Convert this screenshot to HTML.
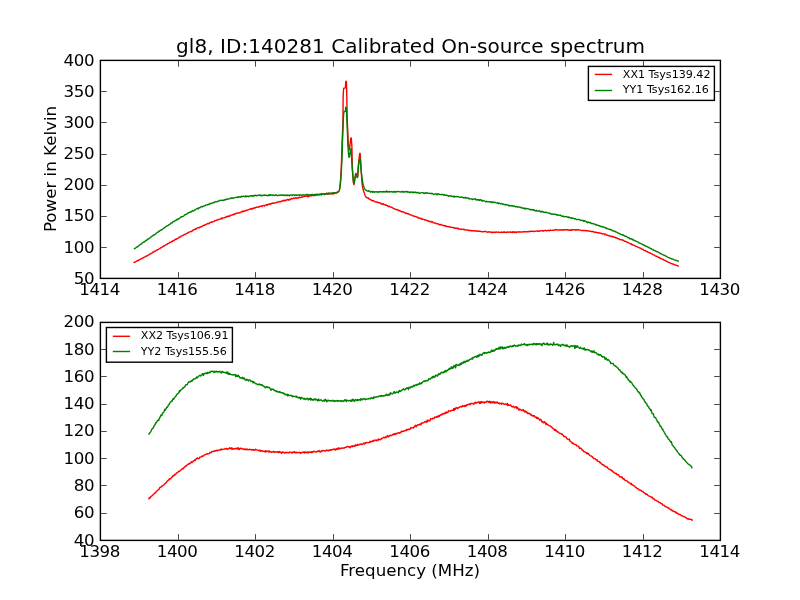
<!DOCTYPE html>
<html><head><meta charset="utf-8"><title>gl8 spectrum</title>
<style>
html,body{margin:0;padding:0;background:#fff;}
body{width:800px;height:600px;overflow:hidden;}
svg{display:block;}
text{font-family:"DejaVu Sans", "Liberation Sans", sans-serif;fill:#000;}
.tk{font-size:16.67px;}
.tn{font-size:16.67px;letter-spacing:-0.4px;}
.lg{font-size:11.1px;}
.ax{fill:none;stroke:#000;stroke-width:1.4;}
.lb{fill:#fff;stroke:#000;stroke-width:1.4;}
.t{stroke:#000;stroke-width:0.72;}
.c{fill:none;stroke-width:1.4;stroke-linejoin:round;stroke-linecap:butt;}
</style></head><body>
<svg width="800" height="600" viewBox="0 0 800 600">
<rect width="800" height="600" fill="#fff"/>

<rect class="ax" x="100.4" y="60.4" width="620.0" height="218.0"/>
<text class="tn" x="99.6" y="294.5" text-anchor="middle">1414</text>
<line class="t" x1="178.5" y1="277.7" x2="178.5" y2="272.1"/><line class="t" x1="178.5" y1="61.1" x2="178.5" y2="66.7"/>
<text class="tn" x="177.1" y="294.5" text-anchor="middle">1416</text>
<line class="t" x1="255.5" y1="277.7" x2="255.5" y2="272.1"/><line class="t" x1="255.5" y1="61.1" x2="255.5" y2="66.7"/>
<text class="tn" x="254.6" y="294.5" text-anchor="middle">1418</text>
<line class="t" x1="333.5" y1="277.7" x2="333.5" y2="272.1"/><line class="t" x1="333.5" y1="61.1" x2="333.5" y2="66.7"/>
<text class="tn" x="332.1" y="294.5" text-anchor="middle">1420</text>
<line class="t" x1="410.5" y1="277.7" x2="410.5" y2="272.1"/><line class="t" x1="410.5" y1="61.1" x2="410.5" y2="66.7"/>
<text class="tn" x="409.6" y="294.5" text-anchor="middle">1422</text>
<line class="t" x1="488.5" y1="277.7" x2="488.5" y2="272.1"/><line class="t" x1="488.5" y1="61.1" x2="488.5" y2="66.7"/>
<text class="tn" x="487.1" y="294.5" text-anchor="middle">1424</text>
<line class="t" x1="565.5" y1="277.7" x2="565.5" y2="272.1"/><line class="t" x1="565.5" y1="61.1" x2="565.5" y2="66.7"/>
<text class="tn" x="564.6" y="294.5" text-anchor="middle">1426</text>
<line class="t" x1="643.5" y1="277.7" x2="643.5" y2="272.1"/><line class="t" x1="643.5" y1="61.1" x2="643.5" y2="66.7"/>
<text class="tn" x="642.1" y="294.5" text-anchor="middle">1428</text>
<text class="tn" x="719.6" y="294.5" text-anchor="middle">1430</text>
<text class="tn" x="94.2" y="284.1" text-anchor="end">50</text>
<line class="t" x1="101.1" y1="247.5" x2="106.7" y2="247.5"/><line class="t" x1="719.7" y1="247.5" x2="714.1" y2="247.5"/>
<text class="tn" x="94.2" y="253.1" text-anchor="end">100</text>
<line class="t" x1="101.1" y1="216.5" x2="106.7" y2="216.5"/><line class="t" x1="719.7" y1="216.5" x2="714.1" y2="216.5"/>
<text class="tn" x="94.2" y="221.1" text-anchor="end">150</text>
<line class="t" x1="101.1" y1="185.5" x2="106.7" y2="185.5"/><line class="t" x1="719.7" y1="185.5" x2="714.1" y2="185.5"/>
<text class="tn" x="94.2" y="190.1" text-anchor="end">200</text>
<line class="t" x1="101.1" y1="154.5" x2="106.7" y2="154.5"/><line class="t" x1="719.7" y1="154.5" x2="714.1" y2="154.5"/>
<text class="tn" x="94.2" y="159.1" text-anchor="end">250</text>
<line class="t" x1="101.1" y1="122.5" x2="106.7" y2="122.5"/><line class="t" x1="719.7" y1="122.5" x2="714.1" y2="122.5"/>
<text class="tn" x="94.2" y="128.1" text-anchor="end">300</text>
<line class="t" x1="101.1" y1="91.5" x2="106.7" y2="91.5"/><line class="t" x1="719.7" y1="91.5" x2="714.1" y2="91.5"/>
<text class="tn" x="94.2" y="97.1" text-anchor="end">350</text>
<text class="tn" x="94.2" y="66.1" text-anchor="end">400</text>
<rect class="ax" x="100.4" y="322.4" width="620.0" height="218.0"/>
<text class="tn" x="99.6" y="556.5" text-anchor="middle">1398</text>
<line class="t" x1="178.5" y1="539.7" x2="178.5" y2="534.1"/><line class="t" x1="178.5" y1="323.1" x2="178.5" y2="328.7"/>
<text class="tn" x="177.1" y="556.5" text-anchor="middle">1400</text>
<line class="t" x1="255.5" y1="539.7" x2="255.5" y2="534.1"/><line class="t" x1="255.5" y1="323.1" x2="255.5" y2="328.7"/>
<text class="tn" x="254.6" y="556.5" text-anchor="middle">1402</text>
<line class="t" x1="333.5" y1="539.7" x2="333.5" y2="534.1"/><line class="t" x1="333.5" y1="323.1" x2="333.5" y2="328.7"/>
<text class="tn" x="332.1" y="556.5" text-anchor="middle">1404</text>
<line class="t" x1="410.5" y1="539.7" x2="410.5" y2="534.1"/><line class="t" x1="410.5" y1="323.1" x2="410.5" y2="328.7"/>
<text class="tn" x="409.6" y="556.5" text-anchor="middle">1406</text>
<line class="t" x1="488.5" y1="539.7" x2="488.5" y2="534.1"/><line class="t" x1="488.5" y1="323.1" x2="488.5" y2="328.7"/>
<text class="tn" x="487.1" y="556.5" text-anchor="middle">1408</text>
<line class="t" x1="565.5" y1="539.7" x2="565.5" y2="534.1"/><line class="t" x1="565.5" y1="323.1" x2="565.5" y2="328.7"/>
<text class="tn" x="564.6" y="556.5" text-anchor="middle">1410</text>
<line class="t" x1="643.5" y1="539.7" x2="643.5" y2="534.1"/><line class="t" x1="643.5" y1="323.1" x2="643.5" y2="328.7"/>
<text class="tn" x="642.1" y="556.5" text-anchor="middle">1412</text>
<text class="tn" x="719.6" y="556.5" text-anchor="middle">1414</text>
<text class="tn" x="94.2" y="546.1" text-anchor="end">40</text>
<line class="t" x1="101.1" y1="513.5" x2="106.7" y2="513.5"/><line class="t" x1="719.7" y1="513.5" x2="714.1" y2="513.5"/>
<text class="tn" x="94.2" y="518.1" text-anchor="end">60</text>
<line class="t" x1="101.1" y1="485.5" x2="106.7" y2="485.5"/><line class="t" x1="719.7" y1="485.5" x2="714.1" y2="485.5"/>
<text class="tn" x="94.2" y="491.1" text-anchor="end">80</text>
<line class="t" x1="101.1" y1="458.5" x2="106.7" y2="458.5"/><line class="t" x1="719.7" y1="458.5" x2="714.1" y2="458.5"/>
<text class="tn" x="94.2" y="464.1" text-anchor="end">100</text>
<line class="t" x1="101.1" y1="431.5" x2="106.7" y2="431.5"/><line class="t" x1="719.7" y1="431.5" x2="714.1" y2="431.5"/>
<text class="tn" x="94.2" y="436.1" text-anchor="end">120</text>
<line class="t" x1="101.1" y1="404.5" x2="106.7" y2="404.5"/><line class="t" x1="719.7" y1="404.5" x2="714.1" y2="404.5"/>
<text class="tn" x="94.2" y="409.1" text-anchor="end">140</text>
<line class="t" x1="101.1" y1="376.5" x2="106.7" y2="376.5"/><line class="t" x1="719.7" y1="376.5" x2="714.1" y2="376.5"/>
<text class="tn" x="94.2" y="382.1" text-anchor="end">160</text>
<line class="t" x1="101.1" y1="349.5" x2="106.7" y2="349.5"/><line class="t" x1="719.7" y1="349.5" x2="714.1" y2="349.5"/>
<text class="tn" x="94.2" y="355.1" text-anchor="end">180</text>
<text class="tn" x="94.2" y="327.1" text-anchor="end">200</text>
<path class="c" stroke="#f00" d="M133.75,262.95 L134.28,262.12 L134.81,262.22 L135.34,261.83 L135.87,261.57 L136.40,261.33 L136.93,260.83 L137.46,260.78 L137.99,260.42 L138.52,260.68 L139.05,260.01 L139.58,259.66 L140.11,259.39 L140.64,259.06 L141.17,258.73 L141.70,258.53 L142.23,258.37 L142.76,257.99 L143.29,257.87 L143.82,257.43 L144.35,257.17 L144.88,257.09 L145.41,256.67 L145.94,256.24 L146.47,255.99 L147.00,255.80 L147.53,255.71 L148.06,255.11 L148.59,254.82 L149.12,254.70 L149.65,254.14 L150.18,253.92 L150.71,253.79 L151.24,253.45 L151.77,253.08 L152.30,252.86 L152.83,252.04 L153.36,252.30 L153.89,251.70 L154.42,251.28 L154.95,251.27 L155.48,251.03 L156.01,250.54 L156.54,250.14 L157.07,250.00 L157.60,249.68 L158.13,249.60 L158.66,249.19 L159.19,248.80 L159.72,248.64 L160.25,248.13 L160.78,247.71 L161.31,247.65 L161.84,247.34 L162.37,246.91 L162.90,246.51 L163.43,246.37 L163.96,245.62 L164.49,245.83 L165.02,245.50 L165.55,244.84 L166.08,244.82 L166.61,244.34 L167.14,244.33 L167.67,243.55 L168.20,243.43 L168.73,243.41 L169.26,243.19 L169.79,242.31 L170.32,242.30 L170.85,242.14 L171.38,241.68 L171.91,241.77 L172.44,240.98 L172.97,240.96 L173.50,240.41 L174.03,240.55 L174.56,240.00 L175.09,239.64 L175.62,239.10 L176.15,239.43 L176.68,238.96 L177.21,238.67 L177.74,238.45 L178.27,238.01 L178.80,237.54 L179.33,237.22 L179.86,236.93 L180.39,237.05 L180.92,236.23 L181.45,236.10 L181.98,235.87 L182.51,235.70 L183.04,235.48 L183.57,234.85 L184.10,234.48 L184.63,234.54 L185.16,234.50 L185.69,234.13 L186.22,233.75 L186.75,233.37 L187.28,233.22 L187.81,232.84 L188.34,232.78 L188.87,232.19 L189.40,232.11 L189.93,231.79 L190.46,231.66 L190.99,231.33 L191.52,231.54 L192.05,231.06 L192.58,230.81 L193.11,229.82 L193.64,229.91 L194.17,229.60 L194.70,229.59 L195.23,228.75 L195.76,229.22 L196.29,228.95 L196.82,228.21 L197.35,228.03 L197.88,227.82 L198.41,227.76 L198.94,227.65 L199.47,227.71 L200.00,226.99 L200.53,226.97 L201.06,226.60 L201.59,226.71 L202.12,226.26 L202.65,226.17 L203.18,225.41 L203.71,225.37 L204.24,225.01 L204.77,225.29 L205.30,224.88 L205.83,224.44 L206.36,224.19 L206.89,224.17 L207.42,223.69 L207.95,223.42 L208.48,223.52 L209.01,223.75 L209.54,222.94 L210.07,222.66 L210.60,222.31 L211.13,222.06 L211.66,222.28 L212.19,222.14 L212.72,221.75 L213.25,221.62 L213.78,221.36 L214.31,221.17 L214.84,220.58 L215.37,220.63 L215.90,220.56 L216.43,220.15 L216.96,220.03 L217.49,219.75 L218.02,219.67 L218.55,219.75 L219.08,219.26 L219.61,219.13 L220.14,219.16 L220.67,218.93 L221.20,218.99 L221.73,217.91 L222.26,218.42 L222.79,217.92 L223.32,217.88 L223.85,217.86 L224.38,217.74 L224.91,217.54 L225.44,217.15 L225.97,217.32 L226.50,216.68 L227.03,216.54 L227.56,216.59 L228.09,216.08 L228.62,216.56 L229.15,216.11 L229.68,216.21 L230.21,215.50 L230.74,215.24 L231.27,215.20 L231.80,215.17 L232.33,214.67 L232.86,214.74 L233.39,214.47 L233.92,214.70 L234.45,213.97 L234.98,214.22 L235.51,213.63 L236.04,213.39 L236.57,213.28 L237.10,212.99 L237.63,213.16 L238.16,213.22 L238.69,212.83 L239.22,212.78 L239.75,212.87 L240.28,212.37 L240.81,212.18 L241.34,211.90 L241.87,211.40 L242.40,211.84 L242.93,211.04 L243.46,211.49 L243.99,211.16 L244.52,211.29 L245.05,210.82 L245.58,210.47 L246.11,210.61 L246.64,210.22 L247.17,210.16 L247.70,210.06 L248.23,209.85 L248.76,209.68 L249.29,209.36 L249.82,209.37 L250.35,208.71 L250.88,209.07 L251.41,208.64 L251.94,209.10 L252.47,208.98 L253.00,207.99 L253.53,208.38 L254.06,208.16 L254.59,207.77 L255.12,208.03 L255.65,207.62 L256.18,207.12 L256.71,207.37 L257.24,207.25 L257.77,207.17 L258.30,206.67 L258.83,207.02 L259.36,206.90 L259.89,206.25 L260.42,206.24 L260.95,206.25 L261.48,205.98 L262.01,206.45 L262.54,205.90 L263.07,205.43 L263.60,205.35 L264.13,205.40 L264.66,205.90 L265.19,205.09 L265.72,205.03 L266.25,205.00 L266.78,204.71 L267.31,205.21 L267.84,204.30 L268.37,204.51 L268.90,204.22 L269.43,204.21 L269.96,203.58 L270.49,204.25 L271.02,203.60 L271.55,203.51 L272.08,203.11 L272.61,203.04 L273.14,203.26 L273.67,203.25 L274.20,203.06 L274.73,203.06 L275.26,202.79 L275.79,202.48 L276.32,202.57 L276.85,202.38 L277.38,202.06 L277.91,202.17 L278.44,202.20 L278.97,201.78 L279.50,201.50 L280.03,201.67 L280.56,201.88 L281.09,201.17 L281.62,201.08 L282.15,200.95 L282.68,201.22 L283.21,200.23 L283.74,200.74 L284.27,200.86 L284.80,200.17 L285.33,200.71 L285.86,200.33 L286.39,199.90 L286.92,200.01 L287.45,199.40 L287.98,199.56 L288.51,200.13 L289.04,199.25 L289.57,199.92 L290.10,199.26 L290.63,199.46 L291.16,199.08 L291.69,198.32 L292.22,198.69 L292.75,198.81 L293.28,198.32 L293.81,198.16 L294.34,198.55 L294.87,198.15 L295.40,197.75 L295.93,197.94 L296.46,198.29 L296.99,197.81 L297.52,198.12 L298.05,198.19 L298.58,197.66 L299.11,197.23 L299.64,197.08 L300.17,197.36 L300.70,197.53 L301.23,197.26 L301.76,197.25 L302.29,196.87 L302.82,197.00 L303.35,196.68 L303.88,196.64 L304.41,196.26 L304.94,196.10 L305.47,196.33 L306.00,196.06 L306.53,196.02 L307.06,196.41 L307.59,196.10 L308.12,196.91 L308.65,196.24 L309.18,195.70 L309.71,196.04 L310.24,195.84 L310.77,195.45 L311.30,195.90 L311.83,195.27 L312.36,194.52 L312.89,195.59 L313.42,195.10 L313.95,195.66 L314.48,194.95 L315.01,194.72 L315.54,195.45 L316.07,194.60 L316.60,194.91 L317.13,195.21 L317.66,194.74 L318.19,194.61 L318.72,194.59 L319.25,194.74 L319.78,194.18 L320.31,194.54 L320.84,194.47 L321.37,194.94 L321.90,194.08 L322.43,193.85 L322.96,194.30 L323.49,193.91 L324.02,194.07 L324.55,193.99 L325.08,194.26 L325.61,193.68 L326.14,193.83 L326.67,193.07 L327.20,193.55 L327.73,194.26 L328.26,193.57 L328.79,193.55 L329.32,193.38 L329.85,193.90 L330.38,193.75 L330.91,193.31 L331.44,193.84 L331.97,193.68 L332.50,193.78 L333.03,193.30 L333.56,193.94 L334.09,193.45 L334.62,193.19 L335.15,192.95 L335.68,192.91 L336.21,193.10 L336.74,192.61 L337.27,192.82 L337.80,192.40 L338.00,192.11 L338.10,192.04 L338.20,191.97 L338.30,191.90 L338.40,191.82 L338.50,191.72 L338.60,191.61 L338.70,191.48 L338.80,191.33 L338.90,191.17 L339.00,190.98 L339.10,190.78 L339.20,190.55 L339.30,190.30 L339.40,189.98 L339.50,189.54 L339.60,189.00 L339.70,188.39 L339.80,187.72 L339.90,187.00 L340.00,186.21 L340.10,185.32 L340.20,184.32 L340.30,183.23 L340.40,182.04 L340.50,180.77 L340.60,179.42 L340.70,177.99 L340.80,176.50 L340.90,174.86 L341.00,173.02 L341.10,170.99 L341.20,168.80 L341.30,166.46 L341.40,164.00 L341.50,161.24 L341.60,158.08 L341.70,154.71 L341.80,151.29 L341.90,148.00 L342.00,145.00 L342.10,142.33 L342.20,139.85 L342.30,137.46 L342.40,135.09 L342.50,132.63 L342.60,130.00 L342.70,127.71 L342.80,125.63 L342.90,122.74 L343.00,118.00 L343.10,100.00 L343.20,96.49 L343.30,93.71 L343.40,91.57 L343.50,90.02 L343.60,88.98 L343.70,88.40 L343.80,88.20 L343.90,88.17 L344.00,88.15 L344.10,88.14 L344.20,88.12 L344.30,88.12 L344.40,88.11 L344.50,88.10 L344.60,88.10 L344.70,88.09 L344.80,88.09 L344.90,88.08 L345.00,88.07 L345.10,88.05 L345.20,88.03 L345.30,88.00 L345.40,87.40 L345.50,85.96 L345.60,84.18 L345.70,82.51 L345.80,81.45 L345.90,81.30 L346.00,81.30 L346.10,81.30 L346.20,81.30 L346.30,81.47 L346.40,82.75 L346.50,84.98 L346.60,87.84 L346.70,91.00 L346.80,95.88 L346.90,102.80 L347.00,109.83 L347.10,115.00 L347.20,118.30 L347.30,121.11 L347.40,123.53 L347.50,125.71 L347.60,127.76 L347.70,129.82 L347.80,132.00 L347.90,134.42 L348.00,136.99 L348.10,139.53 L348.20,141.83 L348.30,143.72 L348.40,145.00 L348.50,145.90 L348.60,146.74 L348.70,147.51 L348.80,148.20 L348.90,148.78 L349.00,149.24 L349.10,149.56 L349.20,149.73 L349.30,149.71 L349.40,149.43 L349.50,148.92 L349.60,148.23 L349.70,147.40 L349.80,146.49 L349.90,145.55 L350.00,144.62 L350.10,143.75 L350.20,143.00 L350.30,142.26 L350.40,141.42 L350.50,140.56 L350.60,139.72 L350.70,138.97 L350.80,138.36 L350.90,137.95 L351.00,137.80 L351.10,137.93 L351.20,138.30 L351.30,138.91 L351.40,139.75 L351.50,140.81 L351.60,142.07 L351.70,143.53 L351.80,145.18 L351.90,147.00 L352.00,151.06 L352.10,157.19 L352.20,162.00 L352.30,164.85 L352.40,167.35 L352.50,169.55 L352.60,171.47 L352.70,173.16 L352.80,174.66 L352.90,176.00 L353.00,177.28 L353.10,178.57 L353.20,179.82 L353.30,180.99 L353.40,182.06 L353.50,182.99 L353.60,183.74 L353.70,184.28 L353.80,184.56 L353.90,184.57 L354.00,184.38 L354.10,184.03 L354.20,183.54 L354.30,182.94 L354.40,182.26 L354.50,181.52 L354.60,180.76 L354.70,180.00 L354.80,179.27 L354.90,178.59 L355.00,178.00 L355.10,177.42 L355.20,176.77 L355.30,176.09 L355.40,175.42 L355.50,174.79 L355.60,174.23 L355.70,173.79 L355.80,173.50 L355.90,173.40 L356.00,173.45 L356.10,173.60 L356.20,173.83 L356.30,174.12 L356.40,174.46 L356.50,174.84 L356.60,175.25 L356.70,175.65 L356.80,176.06 L356.90,176.44 L357.00,176.78 L357.10,177.07 L357.20,177.30 L357.30,177.45 L357.40,177.50 L357.50,177.26 L357.60,176.60 L357.70,175.58 L357.80,174.29 L357.90,172.81 L358.00,171.20 L358.10,169.55 L358.20,167.92 L358.30,166.41 L358.40,165.07 L358.50,164.00 L358.60,163.06 L358.70,162.09 L358.80,161.11 L358.90,160.13 L359.00,159.16 L359.10,158.21 L359.20,157.31 L359.30,156.46 L359.40,155.68 L359.50,154.98 L359.60,154.37 L359.70,153.88 L359.80,153.51 L359.90,153.28 L360.00,153.20 L360.10,153.45 L360.20,154.16 L360.30,155.24 L360.40,156.64 L360.50,158.27 L360.60,160.07 L360.70,161.96 L360.80,163.87 L360.90,165.73 L361.00,167.46 L361.10,169.00 L361.20,170.47 L361.30,172.02 L361.40,173.64 L361.50,175.27 L361.60,176.90 L361.70,178.48 L361.80,179.99 L361.90,181.39 L362.00,182.66 L362.10,183.75 L362.20,184.64 L362.30,185.32 L362.40,185.94 L362.50,186.51 L362.60,187.05 L362.70,187.56 L362.80,188.03 L362.90,188.48 L363.00,188.90 L363.10,189.29 L363.20,189.67 L363.30,190.02 L363.40,190.36 L363.50,190.69 L363.60,191.00 L363.70,191.31 L363.80,191.61 L363.90,191.91 L364.00,192.20 L364.10,192.50 L364.20,192.80 L364.30,193.10 L364.40,193.40 L364.50,193.70 L364.60,193.99 L364.70,194.28 L364.80,194.56 L364.90,194.84 L365.00,195.11 L365.10,195.36 L365.20,195.61 L365.30,195.84 L365.40,196.06 L365.50,196.26 L365.60,196.45 L365.70,196.62 L365.80,196.77 L365.90,196.89 L366.00,197.00 L366.10,197.09 L366.20,197.18 L366.30,197.25 L366.40,197.33 L366.50,197.40 L366.60,197.46 L366.70,197.52 L366.80,197.57 L366.90,197.63 L367.00,197.68 L367.10,197.73 L367.20,197.77 L367.30,197.82 L367.40,197.87 L367.50,197.91 L367.60,197.96 L367.70,198.00 L367.80,198.05 L367.90,198.10 L368.00,198.15 L368.01,197.70 L368.54,198.13 L369.07,199.07 L369.60,199.15 L370.13,199.34 L370.66,199.69 L371.19,200.19 L371.72,200.26 L372.25,200.48 L372.78,200.98 L373.31,200.67 L373.84,200.92 L374.37,201.08 L374.90,201.72 L375.43,201.83 L375.96,202.07 L376.49,201.86 L377.02,201.98 L377.55,202.43 L378.08,202.24 L378.61,202.75 L379.14,202.90 L379.67,202.69 L380.20,203.05 L380.73,203.24 L381.26,203.94 L381.79,204.38 L382.32,203.84 L382.85,204.07 L383.38,203.64 L383.91,204.53 L384.44,204.67 L384.97,204.59 L385.50,205.30 L386.03,204.87 L386.56,205.44 L387.09,205.74 L387.62,205.57 L388.15,206.35 L388.68,206.61 L389.21,206.16 L389.74,206.36 L390.27,207.10 L390.80,207.14 L391.33,207.04 L391.86,207.49 L392.39,207.75 L392.92,207.95 L393.45,208.41 L393.98,208.50 L394.51,209.08 L395.04,209.18 L395.57,209.21 L396.10,209.52 L396.63,209.80 L397.16,209.84 L397.69,209.55 L398.22,210.30 L398.75,210.30 L399.28,210.91 L399.81,210.72 L400.34,211.04 L400.87,211.19 L401.40,211.74 L401.93,211.57 L402.46,211.66 L402.99,212.01 L403.52,212.02 L404.05,212.38 L404.58,212.54 L405.11,212.81 L405.64,213.43 L406.17,213.05 L406.70,213.36 L407.23,213.50 L407.76,213.92 L408.29,213.66 L408.82,213.98 L409.35,214.34 L409.88,214.69 L410.41,214.74 L410.94,214.82 L411.47,214.93 L412.00,215.46 L412.53,215.89 L413.06,215.81 L413.59,215.97 L414.12,216.22 L414.65,216.08 L415.18,216.43 L415.71,216.63 L416.24,216.96 L416.77,217.07 L417.30,216.98 L417.83,217.73 L418.36,218.05 L418.89,217.77 L419.42,218.11 L419.95,218.26 L420.48,218.57 L421.01,218.22 L421.54,219.13 L422.07,218.82 L422.60,219.41 L423.13,219.32 L423.66,219.39 L424.19,219.62 L424.72,220.04 L425.25,219.81 L425.78,220.10 L426.31,220.25 L426.84,220.14 L427.37,221.01 L427.90,221.02 L428.43,221.05 L428.96,221.49 L429.49,221.17 L430.02,221.54 L430.55,222.12 L431.08,222.11 L431.61,221.55 L432.14,221.46 L432.67,222.15 L433.20,222.78 L433.73,222.60 L434.26,222.81 L434.79,223.16 L435.32,222.98 L435.85,223.38 L436.38,223.67 L436.91,223.75 L437.44,223.88 L437.97,223.81 L438.50,224.21 L439.03,224.15 L439.56,224.68 L440.09,225.10 L440.62,224.51 L441.15,224.34 L441.68,224.87 L442.21,225.18 L442.74,225.47 L443.27,225.61 L443.80,225.34 L444.33,225.48 L444.86,226.06 L445.39,225.68 L445.92,226.29 L446.45,226.13 L446.98,226.47 L447.51,226.58 L448.04,226.72 L448.57,226.85 L449.10,226.59 L449.63,226.98 L450.16,227.03 L450.69,227.21 L451.22,227.52 L451.75,227.31 L452.28,227.33 L452.81,227.43 L453.34,227.63 L453.87,227.97 L454.40,227.74 L454.93,228.26 L455.46,228.18 L455.99,228.18 L456.52,228.05 L457.05,228.48 L457.58,228.67 L458.11,228.25 L458.64,228.97 L459.17,229.16 L459.70,228.97 L460.23,229.10 L460.76,229.58 L461.29,229.42 L461.82,229.06 L462.35,229.33 L462.88,229.38 L463.41,229.46 L463.94,229.08 L464.47,229.81 L465.00,229.60 L465.53,229.84 L466.06,229.85 L466.59,230.13 L467.12,229.97 L467.65,229.94 L468.18,230.28 L468.71,230.53 L469.24,230.24 L469.77,230.66 L470.30,230.49 L470.83,230.40 L471.36,230.88 L471.89,230.46 L472.42,230.90 L472.95,230.64 L473.48,230.89 L474.01,230.60 L474.54,230.74 L475.07,231.18 L475.60,231.05 L476.13,231.07 L476.66,231.02 L477.19,231.25 L477.72,230.92 L478.25,231.02 L478.78,231.26 L479.31,231.17 L479.84,231.24 L480.37,231.42 L480.90,231.44 L481.43,231.47 L481.96,231.89 L482.49,231.80 L483.02,231.88 L483.55,231.66 L484.08,231.60 L484.61,231.44 L485.14,231.70 L485.67,231.38 L486.20,231.71 L486.73,232.01 L487.26,232.20 L487.79,232.09 L488.32,231.75 L488.85,232.05 L489.38,231.81 L489.91,232.16 L490.44,231.99 L490.97,232.21 L491.50,232.58 L492.03,232.27 L492.56,232.57 L493.09,232.16 L493.62,232.07 L494.15,232.43 L494.68,232.52 L495.21,232.08 L495.74,232.22 L496.27,231.93 L496.80,232.19 L497.33,232.42 L497.86,232.23 L498.39,232.14 L498.92,231.98 L499.45,232.34 L499.98,232.43 L500.51,232.39 L501.04,232.32 L501.57,232.01 L502.10,232.62 L502.63,232.25 L503.16,232.23 L503.69,232.41 L504.22,231.83 L504.75,232.24 L505.28,232.23 L505.81,232.33 L506.34,232.52 L506.87,232.34 L507.40,231.87 L507.93,232.17 L508.46,232.27 L508.99,232.26 L509.52,231.97 L510.05,231.89 L510.58,232.33 L511.11,232.28 L511.64,232.20 L512.17,231.86 L512.70,232.55 L513.23,231.61 L513.76,232.11 L514.29,232.59 L514.82,232.13 L515.35,232.19 L515.88,231.90 L516.41,232.39 L516.94,231.84 L517.47,232.14 L518.00,232.09 L518.53,231.84 L519.06,232.21 L519.59,231.72 L520.12,231.85 L520.65,231.96 L521.18,231.86 L521.71,232.02 L522.24,232.09 L522.77,231.82 L523.30,231.75 L523.83,231.73 L524.36,231.74 L524.89,231.95 L525.42,231.72 L525.95,231.83 L526.48,231.70 L527.01,231.53 L527.54,231.85 L528.07,231.44 L528.60,231.62 L529.13,231.89 L529.66,231.35 L530.19,231.53 L530.72,231.19 L531.25,231.38 L531.78,231.15 L532.31,231.35 L532.84,231.29 L533.37,231.39 L533.90,231.66 L534.43,231.36 L534.96,231.41 L535.49,231.23 L536.02,231.17 L536.55,231.02 L537.08,230.79 L537.61,231.14 L538.14,231.43 L538.67,231.16 L539.20,230.93 L539.73,231.34 L540.26,230.88 L540.79,230.81 L541.32,230.66 L541.85,230.67 L542.38,230.79 L542.91,231.21 L543.44,230.73 L543.97,230.53 L544.50,230.58 L545.03,230.62 L545.56,230.29 L546.09,230.63 L546.62,230.72 L547.15,230.61 L547.68,230.63 L548.21,230.22 L548.74,230.10 L549.27,230.69 L549.80,230.62 L550.33,230.06 L550.86,230.39 L551.39,230.32 L551.92,230.40 L552.45,230.30 L552.98,230.13 L553.51,230.24 L554.04,230.20 L554.57,230.13 L555.10,229.73 L555.63,229.47 L556.16,229.89 L556.69,229.69 L557.22,230.06 L557.75,230.13 L558.28,230.01 L558.81,229.86 L559.34,229.94 L559.87,230.15 L560.40,229.74 L560.93,230.07 L561.46,230.02 L561.99,229.92 L562.52,230.17 L563.05,229.72 L563.58,230.06 L564.11,229.68 L564.64,229.71 L565.17,229.65 L565.70,229.97 L566.23,229.68 L566.76,229.89 L567.29,229.64 L567.82,230.10 L568.35,230.26 L568.88,229.93 L569.41,230.23 L569.94,230.01 L570.47,230.34 L571.00,229.92 L571.53,229.58 L572.06,230.22 L572.59,229.89 L573.12,229.70 L573.65,229.79 L574.18,229.59 L574.71,229.90 L575.24,229.72 L575.77,230.25 L576.30,230.10 L576.83,229.64 L577.36,229.69 L577.89,229.91 L578.42,229.66 L578.95,230.07 L579.48,230.12 L580.01,230.01 L580.54,230.10 L581.07,230.36 L581.60,230.60 L582.13,230.67 L582.66,230.42 L583.19,230.64 L583.72,230.37 L584.25,230.66 L584.78,230.44 L585.31,230.85 L585.84,230.50 L586.37,230.62 L586.90,230.87 L587.43,231.05 L587.96,230.70 L588.49,230.95 L589.02,231.15 L589.55,231.25 L590.08,231.11 L590.61,231.38 L591.14,231.39 L591.67,231.81 L592.20,231.73 L592.73,231.44 L593.26,231.36 L593.79,231.92 L594.32,232.24 L594.85,232.14 L595.38,232.39 L595.91,232.22 L596.44,232.15 L596.97,232.68 L597.50,232.66 L598.03,232.89 L598.56,232.59 L599.09,233.02 L599.62,232.97 L600.15,233.37 L600.68,233.21 L601.21,233.33 L601.74,233.46 L602.27,233.95 L602.80,233.84 L603.33,233.82 L603.86,233.91 L604.39,234.04 L604.92,234.68 L605.45,234.18 L605.98,234.52 L606.51,234.96 L607.04,235.21 L607.57,235.11 L608.10,235.45 L608.63,235.60 L609.16,235.80 L609.69,235.78 L610.22,236.24 L610.75,236.13 L611.28,236.55 L611.81,236.22 L612.34,236.78 L612.87,236.54 L613.40,236.67 L613.93,237.22 L614.46,237.15 L614.99,237.58 L615.52,237.48 L616.05,238.16 L616.58,238.06 L617.11,238.04 L617.64,238.47 L618.17,238.80 L618.70,238.69 L619.23,239.12 L619.76,239.60 L620.29,239.58 L620.82,239.62 L621.35,239.73 L621.88,240.14 L622.41,239.98 L622.94,239.92 L623.47,240.56 L624.00,240.70 L624.53,241.42 L625.06,241.36 L625.59,241.38 L626.12,241.58 L626.65,242.09 L627.18,242.09 L627.71,242.36 L628.24,242.67 L628.77,242.94 L629.30,243.17 L629.83,243.40 L630.36,243.84 L630.89,244.14 L631.42,243.81 L631.95,244.76 L632.48,244.59 L633.01,245.02 L633.54,244.93 L634.07,245.35 L634.60,245.58 L635.13,245.81 L635.66,246.18 L636.19,246.40 L636.72,246.38 L637.25,246.78 L637.78,247.17 L638.31,247.41 L638.84,247.50 L639.37,247.76 L639.90,248.04 L640.43,248.14 L640.96,248.37 L641.49,249.08 L642.02,249.03 L642.55,249.36 L643.08,249.49 L643.61,250.07 L644.14,250.40 L644.67,250.36 L645.20,250.74 L645.73,250.81 L646.26,251.45 L646.79,251.59 L647.32,251.59 L647.85,252.17 L648.38,252.30 L648.91,252.57 L649.44,252.83 L649.97,252.94 L650.50,253.22 L651.03,253.66 L651.56,253.82 L652.09,253.96 L652.62,254.65 L653.15,254.60 L653.68,254.82 L654.21,255.07 L654.74,255.53 L655.27,255.84 L655.80,256.00 L656.33,256.35 L656.86,256.29 L657.39,256.71 L657.92,256.97 L658.45,257.30 L658.98,257.63 L659.51,257.55 L660.04,258.50 L660.57,258.23 L661.10,258.66 L661.63,258.99 L662.16,259.26 L662.69,259.45 L663.22,259.31 L663.75,259.82 L664.28,260.33 L664.81,260.38 L665.34,260.63 L665.87,260.73 L666.40,261.44 L666.93,261.61 L667.46,261.68 L667.99,262.03 L668.52,262.27 L669.05,262.39 L669.58,262.72 L670.11,263.01 L670.64,263.26 L671.17,263.56 L671.70,263.63 L672.23,263.78 L672.76,264.09 L673.29,264.17 L673.82,264.30 L674.35,264.78 L674.88,264.80 L675.41,265.05 L675.94,265.29 L676.47,265.28 L677.00,265.66 L677.53,265.81 L678.06,265.92 L678.59,266.15 L678.90,266.12"/>
<path class="c" stroke="#008000" d="M133.75,248.86 L134.28,248.79 L134.81,248.32 L135.34,248.23 L135.87,247.76 L136.40,247.26 L136.93,246.98 L137.46,246.83 L137.99,246.42 L138.52,245.92 L139.05,245.56 L139.58,245.07 L140.11,244.73 L140.64,244.47 L141.17,243.98 L141.70,243.68 L142.23,243.07 L142.76,242.60 L143.29,242.22 L143.82,242.06 L144.35,242.00 L144.88,241.61 L145.41,240.85 L145.94,240.37 L146.47,240.42 L147.00,239.99 L147.53,239.28 L148.06,239.35 L148.59,238.82 L149.12,238.65 L149.65,238.10 L150.18,237.83 L150.71,237.34 L151.24,236.73 L151.77,236.48 L152.30,236.02 L152.83,235.93 L153.36,235.20 L153.89,234.72 L154.42,234.77 L154.95,234.49 L155.48,234.17 L156.01,233.73 L156.54,232.84 L157.07,232.62 L157.60,232.28 L158.13,232.01 L158.66,231.21 L159.19,231.28 L159.72,230.97 L160.25,230.36 L160.78,230.21 L161.31,230.07 L161.84,229.47 L162.37,229.32 L162.90,228.95 L163.43,228.47 L163.96,228.10 L164.49,227.58 L165.02,227.57 L165.55,226.85 L166.08,226.44 L166.61,226.39 L167.14,225.73 L167.67,225.63 L168.20,225.42 L168.73,224.85 L169.26,224.51 L169.79,224.35 L170.32,223.97 L170.85,223.12 L171.38,222.83 L171.91,223.09 L172.44,222.54 L172.97,221.64 L173.50,221.47 L174.03,221.45 L174.56,220.89 L175.09,220.89 L175.62,220.48 L176.15,220.24 L176.68,219.53 L177.21,219.62 L177.74,219.61 L178.27,218.65 L178.80,218.83 L179.33,218.43 L179.86,218.04 L180.39,217.56 L180.92,216.98 L181.45,216.74 L181.98,216.83 L182.51,216.58 L183.04,216.34 L183.57,215.98 L184.10,215.67 L184.63,215.05 L185.16,214.57 L185.69,214.63 L186.22,214.41 L186.75,214.02 L187.28,213.33 L187.81,213.30 L188.34,212.78 L188.87,212.90 L189.40,212.32 L189.93,212.27 L190.46,212.12 L190.99,211.80 L191.52,211.85 L192.05,210.95 L192.58,210.41 L193.11,210.95 L193.64,210.81 L194.17,210.57 L194.70,210.02 L195.23,209.84 L195.76,209.49 L196.29,208.87 L196.82,208.82 L197.35,208.86 L197.88,208.35 L198.41,208.77 L198.94,207.63 L199.47,207.69 L200.00,207.87 L200.53,207.19 L201.06,206.83 L201.59,206.55 L202.12,206.50 L202.65,206.88 L203.18,206.38 L203.71,206.19 L204.24,205.71 L204.77,205.87 L205.30,205.46 L205.83,204.98 L206.36,204.91 L206.89,204.89 L207.42,204.96 L207.95,204.44 L208.48,204.40 L209.01,204.63 L209.54,203.68 L210.07,203.38 L210.60,203.82 L211.13,203.50 L211.66,203.18 L212.19,203.10 L212.72,202.77 L213.25,202.84 L213.78,202.44 L214.31,202.59 L214.84,201.88 L215.37,201.81 L215.90,201.92 L216.43,201.60 L216.96,201.77 L217.49,201.41 L218.02,201.12 L218.55,201.19 L219.08,200.84 L219.61,200.41 L220.14,200.39 L220.67,200.35 L221.20,200.31 L221.73,200.34 L222.26,200.44 L222.79,200.21 L223.32,200.43 L223.85,200.17 L224.38,199.63 L224.91,200.03 L225.44,199.78 L225.97,199.19 L226.50,199.30 L227.03,199.41 L227.56,199.05 L228.09,199.17 L228.62,198.89 L229.15,198.87 L229.68,198.48 L230.21,198.58 L230.74,198.27 L231.27,198.47 L231.80,197.70 L232.33,198.19 L232.86,198.36 L233.39,198.08 L233.92,197.82 L234.45,197.90 L234.98,197.41 L235.51,197.33 L236.04,197.39 L236.57,197.37 L237.10,197.62 L237.63,197.00 L238.16,197.48 L238.69,196.66 L239.22,196.82 L239.75,196.97 L240.28,197.26 L240.81,196.67 L241.34,196.16 L241.87,196.85 L242.40,196.66 L242.93,196.29 L243.46,196.25 L243.99,196.29 L244.52,196.47 L245.05,196.58 L245.58,195.90 L246.11,196.96 L246.64,196.22 L247.17,196.08 L247.70,196.34 L248.23,196.13 L248.76,196.74 L249.29,196.33 L249.82,195.86 L250.35,195.82 L250.88,195.75 L251.41,195.76 L251.94,196.03 L252.47,195.60 L253.00,196.23 L253.53,195.70 L254.06,195.65 L254.59,195.94 L255.12,195.05 L255.65,195.32 L256.18,195.75 L256.71,195.55 L257.24,195.52 L257.77,195.61 L258.30,195.30 L258.83,195.40 L259.36,195.03 L259.89,194.86 L260.42,195.77 L260.95,195.10 L261.48,195.15 L262.01,195.76 L262.54,195.64 L263.07,195.16 L263.60,195.14 L264.13,195.26 L264.66,194.98 L265.19,195.41 L265.72,195.28 L266.25,195.27 L266.78,195.44 L267.31,195.42 L267.84,195.74 L268.37,195.64 L268.90,194.68 L269.43,195.45 L269.96,194.84 L270.49,194.75 L271.02,195.38 L271.55,194.96 L272.08,195.07 L272.61,195.48 L273.14,194.97 L273.67,194.90 L274.20,195.26 L274.73,195.53 L275.26,195.32 L275.79,194.70 L276.32,194.97 L276.85,195.11 L277.38,195.73 L277.91,195.42 L278.44,195.41 L278.97,195.51 L279.50,195.06 L280.03,195.30 L280.56,195.30 L281.09,194.86 L281.62,195.15 L282.15,195.32 L282.68,194.83 L283.21,195.39 L283.74,195.37 L284.27,195.45 L284.80,194.92 L285.33,195.18 L285.86,195.57 L286.39,195.38 L286.92,194.90 L287.45,195.20 L287.98,195.56 L288.51,195.11 L289.04,195.24 L289.57,195.89 L290.10,195.12 L290.63,195.09 L291.16,194.83 L291.69,194.93 L292.22,195.56 L292.75,195.08 L293.28,194.76 L293.81,194.84 L294.34,195.11 L294.87,195.33 L295.40,194.88 L295.93,195.31 L296.46,194.95 L296.99,195.20 L297.52,195.25 L298.05,195.27 L298.58,194.96 L299.11,195.03 L299.64,195.23 L300.17,194.69 L300.70,195.12 L301.23,195.22 L301.76,195.37 L302.29,195.04 L302.82,194.99 L303.35,195.09 L303.88,194.82 L304.41,194.97 L304.94,195.15 L305.47,195.11 L306.00,194.70 L306.53,194.91 L307.06,194.36 L307.59,195.21 L308.12,194.80 L308.65,195.01 L309.18,194.59 L309.71,194.87 L310.24,195.01 L310.77,195.14 L311.30,194.42 L311.83,195.05 L312.36,194.72 L312.89,194.50 L313.42,194.85 L313.95,194.58 L314.48,194.55 L315.01,194.40 L315.54,194.64 L316.07,194.55 L316.60,194.45 L317.13,194.18 L317.66,194.27 L318.19,194.51 L318.72,194.73 L319.25,194.31 L319.78,194.70 L320.31,194.23 L320.84,193.87 L321.37,194.35 L321.90,193.84 L322.43,194.21 L322.96,194.37 L323.49,193.92 L324.02,193.95 L324.55,194.68 L325.08,193.98 L325.61,193.95 L326.14,194.08 L326.67,193.78 L327.20,193.75 L327.73,193.86 L328.26,192.99 L328.79,194.10 L329.32,193.32 L329.85,193.27 L330.38,193.72 L330.91,193.52 L331.44,193.08 L331.97,193.46 L332.50,192.99 L333.03,193.04 L333.56,192.71 L334.09,192.81 L334.62,193.07 L335.15,192.86 L335.68,192.78 L336.21,192.81 L336.74,192.36 L337.27,191.98 L337.80,191.83 L338.00,191.80 L338.10,191.74 L338.20,191.67 L338.30,191.60 L338.40,191.52 L338.50,191.42 L338.60,191.30 L338.70,191.17 L338.80,191.02 L338.90,190.85 L339.00,190.66 L339.10,190.46 L339.20,190.24 L339.30,190.00 L339.40,189.71 L339.50,189.35 L339.60,188.92 L339.70,188.43 L339.80,187.89 L339.90,187.31 L340.00,186.70 L340.10,186.03 L340.20,185.29 L340.30,184.47 L340.40,183.58 L340.50,182.62 L340.60,181.59 L340.70,180.49 L340.80,179.34 L340.90,178.12 L341.00,176.84 L341.10,175.50 L341.20,174.02 L341.30,172.33 L341.40,170.47 L341.50,168.47 L341.60,166.37 L341.70,164.20 L341.80,162.00 L341.90,159.76 L342.00,157.39 L342.10,154.83 L342.20,152.00 L342.30,148.49 L342.40,144.68 L342.50,141.50 L342.60,138.70 L342.70,136.11 L342.80,133.64 L342.90,131.22 L343.00,128.75 L343.10,126.16 L343.20,123.54 L343.30,120.99 L343.40,118.65 L343.50,116.61 L343.60,115.00 L343.70,113.61 L343.80,112.45 L343.90,111.90 L344.00,111.81 L344.10,111.74 L344.20,111.69 L344.30,111.65 L344.40,111.62 L344.50,111.60 L344.60,111.59 L344.70,111.57 L344.80,111.55 L344.90,111.53 L345.00,111.49 L345.10,111.45 L345.20,111.38 L345.30,111.30 L345.40,110.82 L345.50,109.82 L345.60,108.66 L345.70,107.70 L345.80,107.30 L345.90,107.30 L346.00,107.30 L346.10,107.30 L346.20,107.30 L346.30,107.70 L346.40,108.76 L346.50,110.27 L346.60,112.00 L346.70,114.77 L346.80,118.00 L346.90,120.56 L347.00,122.92 L347.10,125.16 L347.20,127.37 L347.30,129.62 L347.40,132.00 L347.50,134.68 L347.60,137.60 L347.70,140.48 L347.80,143.04 L347.90,145.00 L348.00,146.56 L348.10,148.08 L348.20,149.56 L348.30,150.97 L348.40,152.29 L348.50,153.50 L348.60,154.57 L348.70,155.50 L348.80,156.26 L348.90,156.82 L349.00,157.18 L349.10,157.30 L349.20,157.20 L349.30,156.91 L349.40,156.49 L349.50,155.95 L349.60,155.35 L349.70,154.72 L349.80,154.09 L349.90,153.51 L350.00,153.00 L350.10,152.51 L350.20,151.97 L350.30,151.41 L350.40,150.83 L350.50,150.28 L350.60,149.78 L350.70,149.34 L350.80,149.00 L350.90,148.78 L351.00,148.70 L351.10,149.39 L351.20,151.06 L351.30,153.12 L351.40,155.00 L351.50,156.62 L351.60,158.28 L351.70,159.96 L351.80,161.63 L351.90,163.25 L352.00,164.80 L352.10,166.25 L352.20,167.63 L352.30,168.98 L352.40,170.29 L352.50,171.55 L352.60,172.76 L352.70,173.91 L352.80,174.99 L352.90,176.00 L353.00,177.00 L353.10,178.06 L353.20,179.13 L353.30,180.16 L353.40,181.13 L353.50,181.98 L353.60,182.68 L353.70,183.19 L353.80,183.46 L353.90,183.48 L354.00,183.31 L354.10,183.00 L354.20,182.58 L354.30,182.06 L354.40,181.48 L354.50,180.85 L354.60,180.21 L354.70,179.58 L354.80,178.98 L354.90,178.45 L355.00,178.00 L355.10,177.58 L355.20,177.13 L355.30,176.67 L355.40,176.22 L355.50,175.80 L355.60,175.44 L355.70,175.15 L355.80,174.97 L355.90,174.90 L356.00,174.93 L356.10,175.03 L356.20,175.17 L356.30,175.36 L356.40,175.57 L356.50,175.82 L356.60,176.07 L356.70,176.33 L356.80,176.58 L356.90,176.83 L357.00,177.04 L357.10,177.23 L357.20,177.37 L357.30,177.47 L357.40,177.50 L357.50,177.29 L357.60,176.70 L357.70,175.81 L357.80,174.69 L357.90,173.39 L358.00,172.00 L358.10,170.58 L358.20,169.20 L358.30,167.93 L358.40,166.84 L358.50,166.00 L358.60,165.30 L358.70,164.59 L358.80,163.88 L358.90,163.17 L359.00,162.49 L359.10,161.82 L359.20,161.20 L359.30,160.61 L359.40,160.07 L359.50,159.60 L359.60,159.19 L359.70,158.86 L359.80,158.61 L359.90,158.45 L360.00,158.40 L360.10,158.59 L360.20,159.13 L360.30,159.96 L360.40,161.02 L360.50,162.25 L360.60,163.59 L360.70,164.99 L360.80,166.39 L360.90,167.73 L361.00,168.95 L361.10,170.00 L361.20,170.95 L361.30,171.89 L361.40,172.84 L361.50,173.78 L361.60,174.70 L361.70,175.59 L361.80,176.45 L361.90,177.28 L362.00,178.06 L362.10,178.78 L362.20,179.44 L362.30,180.05 L362.40,180.63 L362.50,181.19 L362.60,181.74 L362.70,182.27 L362.80,182.78 L362.90,183.28 L363.00,183.75 L363.10,184.19 L363.20,184.62 L363.30,185.02 L363.40,185.40 L363.50,185.75 L363.60,186.07 L363.70,186.36 L363.80,186.63 L363.90,186.89 L364.00,187.14 L364.10,187.38 L364.20,187.62 L364.30,187.84 L364.40,188.06 L364.50,188.27 L364.60,188.47 L364.70,188.66 L364.80,188.84 L364.90,189.01 L365.00,189.17 L365.10,189.32 L365.20,189.46 L365.30,189.59 L365.40,189.70 L365.50,189.81 L365.60,189.90 L365.70,189.98 L365.80,190.07 L365.90,190.14 L366.00,190.22 L366.10,190.29 L366.20,190.36 L366.30,190.43 L366.40,190.50 L366.50,190.56 L366.60,190.62 L366.70,190.68 L366.80,190.73 L366.90,190.79 L367.00,190.84 L367.10,190.88 L367.20,190.93 L367.30,190.97 L367.40,191.01 L367.50,191.05 L367.60,191.08 L367.70,191.12 L367.80,191.15 L367.90,191.17 L368.00,191.20 L368.01,191.13 L368.54,190.75 L369.07,190.92 L369.60,191.45 L370.13,191.37 L370.66,192.22 L371.19,191.78 L371.72,191.48 L372.25,191.65 L372.78,192.28 L373.31,191.51 L373.84,192.03 L374.37,191.93 L374.90,192.24 L375.43,191.96 L375.96,191.67 L376.49,191.95 L377.02,191.81 L377.55,192.08 L378.08,191.76 L378.61,192.38 L379.14,191.74 L379.67,191.91 L380.20,191.57 L380.73,191.80 L381.26,191.77 L381.79,191.81 L382.32,192.03 L382.85,191.59 L383.38,191.49 L383.91,192.08 L384.44,191.65 L384.97,191.53 L385.50,192.08 L386.03,191.96 L386.56,190.91 L387.09,191.60 L387.62,191.95 L388.15,191.96 L388.68,191.54 L389.21,192.17 L389.74,191.45 L390.27,191.62 L390.80,191.72 L391.33,191.68 L391.86,191.92 L392.39,191.98 L392.92,191.66 L393.45,192.09 L393.98,191.45 L394.51,191.60 L395.04,192.18 L395.57,191.69 L396.10,191.98 L396.63,191.52 L397.16,191.57 L397.69,191.62 L398.22,191.70 L398.75,191.54 L399.28,191.65 L399.81,191.85 L400.34,192.01 L400.87,191.68 L401.40,191.86 L401.93,191.95 L402.46,191.35 L402.99,191.22 L403.52,192.21 L404.05,192.14 L404.58,191.78 L405.11,191.89 L405.64,191.52 L406.17,191.42 L406.70,191.96 L407.23,191.45 L407.76,192.21 L408.29,191.75 L408.82,192.08 L409.35,192.61 L409.88,192.63 L410.41,192.01 L410.94,192.44 L411.47,191.84 L412.00,192.01 L412.53,192.32 L413.06,192.66 L413.59,192.10 L414.12,192.47 L414.65,192.37 L415.18,191.99 L415.71,192.36 L416.24,192.89 L416.77,192.45 L417.30,192.66 L417.83,192.80 L418.36,192.36 L418.89,193.00 L419.42,193.12 L419.95,193.19 L420.48,193.14 L421.01,192.64 L421.54,192.65 L422.07,192.63 L422.60,192.63 L423.13,192.71 L423.66,193.29 L424.19,193.47 L424.72,192.88 L425.25,193.36 L425.78,192.78 L426.31,193.11 L426.84,192.95 L427.37,192.81 L427.90,193.36 L428.43,193.42 L428.96,193.32 L429.49,193.33 L430.02,193.24 L430.55,193.55 L431.08,193.46 L431.61,193.76 L432.14,193.38 L432.67,193.86 L433.20,194.00 L433.73,194.27 L434.26,194.26 L434.79,194.06 L435.32,193.85 L435.85,193.56 L436.38,194.16 L436.91,194.64 L437.44,194.77 L437.97,193.57 L438.50,194.16 L439.03,194.34 L439.56,194.19 L440.09,194.62 L440.62,194.63 L441.15,194.52 L441.68,194.73 L442.21,194.32 L442.74,194.57 L443.27,194.65 L443.80,195.25 L444.33,194.56 L444.86,195.04 L445.39,195.40 L445.92,195.22 L446.45,195.54 L446.98,195.17 L447.51,195.56 L448.04,195.76 L448.57,196.22 L449.10,195.84 L449.63,196.11 L450.16,195.76 L450.69,195.85 L451.22,196.35 L451.75,196.13 L452.28,196.45 L452.81,196.31 L453.34,196.79 L453.87,196.94 L454.40,196.06 L454.93,196.92 L455.46,196.58 L455.99,196.66 L456.52,196.56 L457.05,196.88 L457.58,196.42 L458.11,196.60 L458.64,196.66 L459.17,197.05 L459.70,197.31 L460.23,197.33 L460.76,197.29 L461.29,197.09 L461.82,196.83 L462.35,197.53 L462.88,197.53 L463.41,197.67 L463.94,198.06 L464.47,197.67 L465.00,197.74 L465.53,197.21 L466.06,198.12 L466.59,198.02 L467.12,197.90 L467.65,198.31 L468.18,197.97 L468.71,198.20 L469.24,199.00 L469.77,198.73 L470.30,198.87 L470.83,198.90 L471.36,198.95 L471.89,198.90 L472.42,199.59 L472.95,198.99 L473.48,199.31 L474.01,199.12 L474.54,199.16 L475.07,198.65 L475.60,198.88 L476.13,199.96 L476.66,200.03 L477.19,199.56 L477.72,199.76 L478.25,200.03 L478.78,199.66 L479.31,200.53 L479.84,199.82 L480.37,200.00 L480.90,199.51 L481.43,200.81 L481.96,200.49 L482.49,201.02 L483.02,200.37 L483.55,200.83 L484.08,200.85 L484.61,200.97 L485.14,201.59 L485.67,201.74 L486.20,201.58 L486.73,201.17 L487.26,201.62 L487.79,201.84 L488.32,201.71 L488.85,201.80 L489.38,201.87 L489.91,201.58 L490.44,201.99 L490.97,202.46 L491.50,201.83 L492.03,202.22 L492.56,202.53 L493.09,202.01 L493.62,202.45 L494.15,202.11 L494.68,202.51 L495.21,202.38 L495.74,202.62 L496.27,202.82 L496.80,202.98 L497.33,203.09 L497.86,202.58 L498.39,203.78 L498.92,203.36 L499.45,203.23 L499.98,203.46 L500.51,203.81 L501.04,203.55 L501.57,203.81 L502.10,203.89 L502.63,204.27 L503.16,204.01 L503.69,204.44 L504.22,204.51 L504.75,204.47 L505.28,204.95 L505.81,204.72 L506.34,204.49 L506.87,204.99 L507.40,205.05 L507.93,205.10 L508.46,205.28 L508.99,205.95 L509.52,205.48 L510.05,205.64 L510.58,205.55 L511.11,206.07 L511.64,205.80 L512.17,205.70 L512.70,205.69 L513.23,206.26 L513.76,206.42 L514.29,205.90 L514.82,206.23 L515.35,206.70 L515.88,206.91 L516.41,206.38 L516.94,206.73 L517.47,207.16 L518.00,206.90 L518.53,207.03 L519.06,207.11 L519.59,207.01 L520.12,207.47 L520.65,207.64 L521.18,207.30 L521.71,207.80 L522.24,208.17 L522.77,208.03 L523.30,208.33 L523.83,208.04 L524.36,208.65 L524.89,208.19 L525.42,208.99 L525.95,208.49 L526.48,208.52 L527.01,208.58 L527.54,208.81 L528.07,208.90 L528.60,208.95 L529.13,209.15 L529.66,209.51 L530.19,209.68 L530.72,209.47 L531.25,209.98 L531.78,209.51 L532.31,209.61 L532.84,209.69 L533.37,210.24 L533.90,209.79 L534.43,209.94 L534.96,210.73 L535.49,210.95 L536.02,210.96 L536.55,210.34 L537.08,210.83 L537.61,211.15 L538.14,211.07 L538.67,210.73 L539.20,211.17 L539.73,210.93 L540.26,211.15 L540.79,212.12 L541.32,211.85 L541.85,211.41 L542.38,211.51 L542.91,212.12 L543.44,211.95 L543.97,212.36 L544.50,212.16 L545.03,212.38 L545.56,212.60 L546.09,212.38 L546.62,212.27 L547.15,212.56 L547.68,212.79 L548.21,213.02 L548.74,213.17 L549.27,213.27 L549.80,213.52 L550.33,213.28 L550.86,213.96 L551.39,214.22 L551.92,213.92 L552.45,213.98 L552.98,214.35 L553.51,214.31 L554.04,214.30 L554.57,214.32 L555.10,214.29 L555.63,214.29 L556.16,214.85 L556.69,215.09 L557.22,214.65 L557.75,215.00 L558.28,215.18 L558.81,215.13 L559.34,215.16 L559.87,215.36 L560.40,215.08 L560.93,215.66 L561.46,215.71 L561.99,216.41 L562.52,216.24 L563.05,216.04 L563.58,216.23 L564.11,216.76 L564.64,216.85 L565.17,216.62 L565.70,216.66 L566.23,216.46 L566.76,216.84 L567.29,217.00 L567.82,216.98 L568.35,217.68 L568.88,216.94 L569.41,217.48 L569.94,217.73 L570.47,217.85 L571.00,218.27 L571.53,217.66 L572.06,217.94 L572.59,218.26 L573.12,218.39 L573.65,218.39 L574.18,218.43 L574.71,218.99 L575.24,218.62 L575.77,218.85 L576.30,219.45 L576.83,219.65 L577.36,219.58 L577.89,219.31 L578.42,219.44 L578.95,219.56 L579.48,219.64 L580.01,219.94 L580.54,220.47 L581.07,220.37 L581.60,220.28 L582.13,220.41 L582.66,220.46 L583.19,221.15 L583.72,220.55 L584.25,221.22 L584.78,220.97 L585.31,221.21 L585.84,221.26 L586.37,221.96 L586.90,221.87 L587.43,222.66 L587.96,221.96 L588.49,222.10 L589.02,222.63 L589.55,222.78 L590.08,222.75 L590.61,222.51 L591.14,223.45 L591.67,223.41 L592.20,223.54 L592.73,223.48 L593.26,223.92 L593.79,223.82 L594.32,224.12 L594.85,224.24 L595.38,224.73 L595.91,224.52 L596.44,224.72 L596.97,225.21 L597.50,225.19 L598.03,225.31 L598.56,225.44 L599.09,225.88 L599.62,225.71 L600.15,226.13 L600.68,226.65 L601.21,226.48 L601.74,226.41 L602.27,226.51 L602.80,226.99 L603.33,226.89 L603.86,227.00 L604.39,227.37 L604.92,227.49 L605.45,228.11 L605.98,227.81 L606.51,228.65 L607.04,228.36 L607.57,228.74 L608.10,229.05 L608.63,229.16 L609.16,229.47 L609.69,229.32 L610.22,229.26 L610.75,229.90 L611.28,229.80 L611.81,230.24 L612.34,230.76 L612.87,230.74 L613.40,230.88 L613.93,230.98 L614.46,231.37 L614.99,231.61 L615.52,231.55 L616.05,232.15 L616.58,232.10 L617.11,232.58 L617.64,232.67 L618.17,233.18 L618.70,233.38 L619.23,233.44 L619.76,233.65 L620.29,233.99 L620.82,234.40 L621.35,234.57 L621.88,234.63 L622.41,234.90 L622.94,235.38 L623.47,235.00 L624.00,235.66 L624.53,235.63 L625.06,236.30 L625.59,236.19 L626.12,236.51 L626.65,236.57 L627.18,237.03 L627.71,237.42 L628.24,237.83 L628.77,237.53 L629.30,237.94 L629.83,238.99 L630.36,238.69 L630.89,238.77 L631.42,239.12 L631.95,238.79 L632.48,239.83 L633.01,239.82 L633.54,239.79 L634.07,240.51 L634.60,240.45 L635.13,240.64 L635.66,241.17 L636.19,241.41 L636.72,241.52 L637.25,241.85 L637.78,241.89 L638.31,242.13 L638.84,242.80 L639.37,243.13 L639.90,243.24 L640.43,243.49 L640.96,243.62 L641.49,243.93 L642.02,244.06 L642.55,244.78 L643.08,244.65 L643.61,245.08 L644.14,245.28 L644.67,245.31 L645.20,246.13 L645.73,246.01 L646.26,246.22 L646.79,246.63 L647.32,246.73 L647.85,247.14 L648.38,247.25 L648.91,247.76 L649.44,247.95 L649.97,247.98 L650.50,248.63 L651.03,248.76 L651.56,248.82 L652.09,249.32 L652.62,249.59 L653.15,250.08 L653.68,249.92 L654.21,250.45 L654.74,250.57 L655.27,250.95 L655.80,251.08 L656.33,251.37 L656.86,251.72 L657.39,251.73 L657.92,251.86 L658.45,252.43 L658.98,252.63 L659.51,252.97 L660.04,253.31 L660.57,253.44 L661.10,253.91 L661.63,253.99 L662.16,254.28 L662.69,254.65 L663.22,254.88 L663.75,255.04 L664.28,255.34 L664.81,255.48 L665.34,255.76 L665.87,256.12 L666.40,256.47 L666.93,256.55 L667.46,256.97 L667.99,257.37 L668.52,257.63 L669.05,257.58 L669.58,257.95 L670.11,258.11 L670.64,258.36 L671.17,258.58 L671.70,258.75 L672.23,259.00 L672.76,259.13 L673.29,259.28 L673.82,259.55 L674.35,259.78 L674.88,260.07 L675.41,260.15 L675.94,260.39 L676.47,260.67 L677.00,260.55 L677.53,260.82 L678.06,261.10 L678.59,261.21 L678.90,261.18"/>
<path class="c" stroke="#f00" d="M148.50,499.26 L149.03,498.51 L149.56,497.78 L150.09,498.02 L150.62,496.72 L151.15,496.55 L151.68,495.88 L152.21,495.59 L152.74,495.21 L153.27,494.35 L153.80,494.04 L154.33,493.53 L154.86,492.80 L155.39,492.87 L155.92,492.10 L156.45,491.47 L156.98,490.86 L157.51,490.43 L158.04,490.05 L158.57,489.38 L159.10,489.34 L159.63,487.79 L160.16,487.39 L160.69,487.42 L161.22,486.47 L161.75,486.47 L162.28,485.80 L162.81,485.66 L163.34,485.12 L163.87,484.88 L164.40,484.28 L164.93,483.89 L165.46,483.19 L165.99,482.87 L166.52,482.22 L167.05,481.41 L167.58,480.74 L168.11,480.27 L168.64,480.29 L169.17,478.96 L169.70,479.25 L170.23,478.51 L170.76,478.49 L171.29,477.86 L171.82,477.10 L172.35,476.88 L172.88,475.71 L173.41,476.04 L173.94,475.65 L174.47,474.48 L175.00,474.87 L175.53,474.12 L176.06,473.76 L176.59,472.82 L177.12,473.02 L177.65,472.57 L178.18,471.95 L178.71,471.21 L179.24,471.35 L179.77,471.08 L180.30,470.40 L180.83,470.18 L181.36,469.26 L181.89,469.09 L182.42,468.76 L182.95,468.28 L183.48,468.76 L184.01,467.57 L184.54,466.84 L185.07,466.91 L185.60,465.88 L186.13,465.98 L186.66,465.74 L187.19,464.93 L187.72,464.62 L188.25,464.04 L188.78,464.04 L189.31,463.41 L189.84,463.88 L190.37,463.16 L190.90,462.52 L191.43,461.76 L191.96,462.61 L192.49,462.02 L193.02,461.40 L193.55,460.98 L194.08,460.64 L194.61,460.10 L195.14,460.60 L195.67,459.70 L196.20,458.81 L196.73,458.78 L197.26,457.79 L197.79,458.64 L198.32,458.39 L198.85,458.46 L199.38,458.30 L199.91,457.00 L200.44,457.17 L200.97,457.10 L201.50,456.76 L202.03,456.03 L202.56,456.25 L203.09,455.88 L203.62,455.95 L204.15,455.19 L204.68,454.87 L205.21,454.54 L205.74,454.35 L206.27,453.97 L206.80,453.90 L207.33,453.99 L207.86,453.76 L208.39,453.86 L208.92,453.57 L209.45,453.20 L209.98,452.35 L210.51,452.79 L211.04,452.82 L211.57,451.72 L212.10,451.61 L212.63,451.49 L213.16,451.28 L213.69,451.39 L214.22,450.98 L214.75,451.31 L215.28,450.56 L215.81,450.81 L216.34,450.53 L216.87,450.22 L217.40,450.84 L217.93,450.34 L218.46,450.40 L218.99,449.95 L219.52,450.21 L220.05,450.05 L220.58,449.64 L221.11,448.92 L221.64,449.79 L222.17,449.64 L222.70,449.35 L223.23,449.29 L223.76,449.17 L224.29,449.14 L224.82,448.63 L225.35,448.95 L225.88,449.06 L226.41,448.67 L226.94,448.50 L227.47,449.54 L228.00,449.04 L228.53,448.66 L229.06,448.56 L229.59,447.72 L230.12,448.15 L230.65,448.57 L231.18,449.13 L231.71,447.84 L232.24,448.34 L232.77,449.31 L233.30,448.82 L233.83,448.71 L234.36,448.99 L234.89,448.48 L235.42,448.45 L235.95,448.78 L236.48,448.83 L237.01,448.10 L237.54,449.08 L238.07,447.84 L238.60,448.25 L239.13,449.70 L239.66,448.36 L240.19,448.83 L240.72,448.23 L241.25,448.53 L241.78,448.41 L242.31,448.58 L242.84,449.03 L243.37,449.49 L243.90,449.21 L244.43,449.52 L244.96,448.80 L245.49,449.60 L246.02,449.32 L246.55,449.68 L247.08,449.06 L247.61,449.19 L248.14,449.85 L248.67,449.62 L249.20,449.49 L249.73,449.24 L250.26,449.51 L250.79,449.79 L251.32,449.93 L251.85,449.51 L252.38,449.65 L252.91,450.00 L253.44,449.49 L253.97,450.32 L254.50,450.03 L255.03,450.05 L255.56,449.26 L256.09,449.63 L256.62,449.91 L257.15,450.15 L257.68,450.02 L258.21,450.64 L258.74,450.62 L259.27,450.53 L259.80,449.93 L260.33,451.28 L260.86,450.72 L261.39,451.10 L261.92,450.69 L262.45,450.99 L262.98,451.30 L263.51,451.19 L264.04,451.51 L264.57,451.14 L265.10,452.00 L265.63,450.60 L266.16,451.16 L266.69,451.78 L267.22,451.37 L267.75,451.35 L268.28,450.90 L268.81,452.06 L269.34,450.95 L269.87,451.89 L270.40,451.82 L270.93,452.12 L271.46,452.38 L271.99,451.62 L272.52,451.61 L273.05,451.83 L273.58,451.35 L274.11,452.32 L274.64,451.90 L275.17,452.14 L275.70,451.69 L276.23,452.14 L276.76,451.94 L277.29,452.17 L277.82,451.82 L278.35,452.63 L278.88,452.04 L279.41,451.37 L279.94,452.58 L280.47,452.25 L281.00,452.06 L281.53,453.34 L282.06,452.42 L282.59,451.97 L283.12,452.25 L283.65,452.64 L284.18,452.43 L284.71,452.99 L285.24,452.93 L285.77,452.26 L286.30,452.57 L286.83,452.80 L287.36,452.41 L287.89,452.40 L288.42,452.89 L288.95,452.73 L289.48,452.05 L290.01,452.36 L290.54,452.41 L291.07,452.52 L291.60,452.29 L292.13,453.05 L292.66,452.20 L293.19,452.15 L293.72,452.63 L294.25,451.71 L294.78,452.16 L295.31,452.77 L295.84,452.05 L296.37,452.22 L296.90,452.93 L297.43,452.69 L297.96,452.54 L298.49,452.61 L299.02,452.26 L299.55,452.62 L300.08,452.43 L300.61,453.42 L301.14,452.68 L301.67,452.35 L302.20,452.44 L302.73,452.46 L303.26,451.91 L303.79,452.10 L304.32,452.94 L304.85,451.83 L305.38,452.11 L305.91,452.67 L306.44,452.83 L306.97,451.86 L307.50,452.75 L308.03,452.04 L308.56,452.75 L309.09,452.29 L309.62,451.96 L310.15,452.30 L310.68,452.21 L311.21,451.68 L311.74,452.72 L312.27,451.77 L312.80,452.29 L313.33,451.64 L313.86,451.10 L314.39,451.33 L314.92,451.66 L315.45,451.91 L315.98,452.27 L316.51,451.60 L317.04,451.41 L317.57,451.01 L318.10,451.40 L318.63,451.48 L319.16,450.49 L319.69,451.75 L320.22,451.63 L320.75,452.01 L321.28,450.76 L321.81,451.06 L322.34,450.99 L322.87,450.43 L323.40,450.55 L323.93,450.44 L324.46,450.94 L324.99,450.85 L325.52,451.14 L326.05,450.42 L326.58,449.98 L327.11,450.61 L327.64,450.51 L328.17,450.56 L328.70,450.71 L329.23,449.95 L329.76,450.40 L330.29,449.65 L330.82,450.01 L331.35,450.14 L331.88,449.76 L332.41,449.81 L332.94,449.12 L333.47,449.33 L334.00,449.55 L334.53,448.96 L335.06,449.01 L335.59,450.17 L336.12,449.27 L336.65,448.78 L337.18,448.61 L337.71,449.44 L338.24,447.77 L338.77,448.61 L339.30,448.88 L339.83,448.34 L340.36,448.66 L340.89,447.97 L341.42,448.27 L341.95,448.19 L342.48,448.09 L343.01,448.04 L343.54,447.90 L344.07,448.22 L344.60,447.59 L345.13,447.37 L345.66,447.39 L346.19,447.28 L346.72,446.71 L347.25,446.45 L347.78,446.56 L348.31,447.09 L348.84,446.62 L349.37,446.61 L349.90,447.77 L350.43,446.99 L350.96,446.37 L351.49,446.09 L352.02,446.76 L352.55,445.81 L353.08,446.48 L353.61,446.12 L354.14,446.31 L354.67,445.38 L355.20,445.89 L355.73,444.72 L356.26,445.24 L356.79,445.60 L357.32,445.33 L357.85,444.23 L358.38,445.08 L358.91,444.87 L359.44,444.54 L359.97,444.16 L360.50,444.21 L361.03,443.97 L361.56,444.43 L362.09,444.12 L362.62,444.23 L363.15,443.95 L363.68,443.04 L364.21,443.47 L364.74,444.12 L365.27,442.71 L365.80,443.12 L366.33,442.57 L366.86,442.39 L367.39,442.68 L367.92,442.82 L368.45,442.62 L368.98,442.36 L369.51,442.41 L370.04,441.24 L370.57,442.07 L371.10,441.76 L371.63,441.38 L372.16,441.30 L372.69,440.82 L373.22,441.48 L373.75,440.56 L374.28,440.12 L374.81,440.56 L375.34,440.18 L375.87,440.23 L376.40,440.71 L376.93,439.90 L377.46,439.84 L377.99,440.55 L378.52,438.91 L379.05,439.47 L379.58,439.64 L380.11,439.62 L380.64,439.75 L381.17,438.41 L381.70,438.76 L382.23,438.31 L382.76,438.00 L383.29,437.72 L383.82,437.26 L384.35,437.82 L384.88,437.83 L385.41,436.91 L385.94,437.49 L386.47,436.78 L387.00,436.42 L387.53,435.58 L388.06,436.94 L388.59,436.61 L389.12,436.01 L389.65,435.80 L390.18,435.25 L390.71,435.82 L391.24,435.40 L391.77,435.47 L392.30,435.14 L392.83,434.30 L393.36,434.05 L393.89,434.69 L394.42,433.62 L394.95,434.26 L395.48,434.34 L396.01,433.23 L396.54,433.87 L397.07,433.42 L397.60,433.44 L398.13,432.75 L398.66,432.82 L399.19,432.82 L399.72,433.22 L400.25,432.57 L400.78,432.27 L401.31,431.31 L401.84,431.81 L402.37,431.18 L402.90,431.24 L403.43,431.19 L403.96,431.29 L404.49,430.93 L405.02,430.55 L405.55,430.24 L406.08,430.65 L406.61,429.48 L407.14,429.67 L407.67,430.04 L408.20,429.15 L408.73,429.39 L409.26,429.21 L409.79,429.47 L410.32,428.89 L410.85,427.47 L411.38,427.97 L411.91,427.88 L412.44,427.90 L412.97,427.49 L413.50,427.93 L414.03,427.37 L414.56,426.15 L415.09,426.16 L415.62,425.31 L416.15,426.76 L416.68,425.71 L417.21,425.48 L417.74,424.61 L418.27,424.89 L418.80,425.05 L419.33,424.44 L419.86,424.22 L420.39,423.88 L420.92,424.82 L421.45,423.45 L421.98,422.81 L422.51,422.99 L423.04,422.83 L423.57,422.72 L424.10,422.41 L424.63,421.78 L425.16,421.96 L425.69,421.99 L426.22,420.94 L426.75,422.24 L427.28,421.87 L427.81,420.03 L428.34,420.44 L428.87,420.83 L429.40,420.74 L429.93,420.70 L430.46,418.79 L430.99,418.88 L431.52,418.91 L432.05,419.16 L432.58,418.16 L433.11,418.62 L433.64,418.38 L434.17,418.26 L434.70,417.08 L435.23,417.54 L435.76,417.24 L436.29,416.77 L436.82,417.34 L437.35,416.35 L437.88,416.93 L438.41,415.73 L438.94,416.58 L439.47,416.32 L440.00,414.91 L440.53,415.22 L441.06,414.97 L441.59,414.12 L442.12,414.72 L442.65,414.39 L443.18,413.45 L443.71,413.68 L444.24,413.82 L444.77,413.08 L445.30,412.58 L445.83,413.48 L446.36,411.99 L446.89,412.40 L447.42,412.55 L447.95,412.17 L448.48,410.67 L449.01,411.19 L449.54,411.06 L450.07,410.81 L450.60,411.00 L451.13,410.75 L451.66,410.34 L452.19,410.19 L452.72,410.34 L453.25,410.25 L453.78,408.50 L454.31,410.29 L454.84,408.74 L455.37,409.19 L455.90,407.80 L456.43,408.14 L456.96,407.58 L457.49,408.53 L458.02,408.24 L458.55,407.61 L459.08,407.34 L459.61,407.43 L460.14,406.59 L460.67,406.57 L461.20,406.32 L461.73,406.94 L462.26,406.38 L462.79,405.57 L463.32,406.22 L463.85,406.15 L464.38,406.42 L464.91,405.29 L465.44,405.62 L465.97,406.30 L466.50,404.94 L467.03,404.77 L467.56,405.06 L468.09,404.40 L468.62,404.51 L469.15,404.12 L469.68,403.84 L470.21,404.54 L470.74,403.78 L471.27,403.34 L471.80,403.58 L472.33,403.54 L472.86,403.66 L473.39,403.88 L473.92,404.20 L474.45,402.60 L474.98,403.02 L475.51,402.14 L476.04,403.10 L476.57,403.17 L477.10,402.50 L477.63,402.29 L478.16,402.17 L478.69,401.84 L479.22,402.84 L479.75,403.42 L480.28,401.82 L480.81,403.16 L481.34,402.22 L481.87,401.52 L482.40,402.47 L482.93,402.53 L483.46,402.32 L483.99,401.96 L484.52,402.93 L485.05,401.93 L485.58,402.40 L486.11,402.41 L486.64,401.64 L487.17,401.16 L487.70,401.24 L488.23,401.93 L488.76,402.33 L489.29,401.28 L489.82,401.84 L490.35,403.01 L490.88,401.35 L491.41,402.53 L491.94,402.51 L492.47,402.77 L493.00,401.66 L493.53,402.62 L494.06,401.79 L494.59,403.21 L495.12,402.15 L495.65,402.83 L496.18,402.28 L496.71,402.81 L497.24,402.01 L497.77,402.99 L498.30,403.20 L498.83,402.95 L499.36,403.83 L499.89,403.25 L500.42,403.53 L500.95,403.45 L501.48,404.23 L502.01,403.04 L502.54,403.33 L503.07,403.46 L503.60,404.00 L504.13,403.94 L504.66,404.35 L505.19,404.21 L505.72,403.95 L506.25,404.32 L506.78,404.72 L507.31,403.50 L507.84,405.50 L508.37,404.68 L508.90,404.95 L509.43,405.42 L509.96,405.33 L510.49,404.90 L511.02,405.68 L511.55,406.66 L512.08,406.66 L512.61,406.92 L513.14,406.20 L513.67,406.54 L514.20,407.36 L514.73,407.76 L515.26,407.24 L515.79,406.94 L516.32,406.67 L516.85,408.54 L517.38,407.30 L517.91,408.48 L518.44,408.93 L518.97,410.33 L519.50,409.04 L520.03,409.13 L520.56,409.64 L521.09,409.91 L521.62,410.56 L522.15,410.48 L522.68,410.01 L523.21,409.59 L523.74,411.02 L524.27,410.79 L524.80,412.06 L525.33,410.98 L525.86,411.98 L526.39,411.78 L526.92,411.98 L527.45,413.48 L527.98,413.02 L528.51,413.13 L529.04,413.86 L529.57,413.40 L530.10,413.89 L530.63,414.04 L531.16,415.60 L531.69,415.10 L532.22,415.54 L532.75,416.07 L533.28,415.74 L533.81,416.06 L534.34,415.66 L534.87,416.98 L535.40,417.18 L535.93,417.17 L536.46,418.25 L536.99,417.14 L537.52,418.50 L538.05,417.96 L538.58,418.39 L539.11,419.15 L539.64,420.20 L540.17,419.35 L540.70,419.76 L541.23,420.00 L541.76,421.84 L542.29,421.48 L542.82,421.77 L543.35,422.88 L543.88,422.38 L544.41,421.63 L544.94,422.72 L545.47,422.75 L546.00,424.59 L546.53,423.35 L547.06,424.50 L547.59,424.47 L548.12,424.86 L548.65,425.43 L549.18,425.71 L549.71,425.82 L550.24,425.93 L550.77,426.55 L551.30,426.73 L551.83,427.16 L552.36,427.99 L552.89,428.23 L553.42,428.88 L553.95,428.93 L554.48,430.27 L555.01,429.46 L555.54,429.72 L556.07,430.99 L556.60,430.60 L557.13,431.35 L557.66,432.10 L558.19,432.01 L558.72,432.27 L559.25,433.23 L559.78,433.33 L560.31,433.34 L560.84,433.43 L561.37,434.17 L561.90,434.00 L562.43,434.72 L562.96,435.01 L563.49,436.00 L564.02,436.59 L564.55,436.37 L565.08,436.85 L565.61,436.96 L566.14,437.23 L566.67,438.02 L567.20,438.83 L567.73,439.18 L568.26,439.62 L568.79,439.65 L569.32,439.02 L569.85,440.93 L570.38,441.48 L570.91,441.70 L571.44,442.09 L571.97,442.56 L572.50,443.60 L573.03,443.03 L573.56,443.93 L574.09,444.01 L574.62,444.35 L575.15,444.42 L575.68,444.73 L576.21,444.80 L576.74,445.89 L577.27,445.92 L577.80,445.95 L578.33,446.52 L578.86,446.74 L579.39,448.24 L579.92,447.90 L580.45,448.43 L580.98,448.30 L581.51,448.76 L582.04,449.96 L582.57,449.85 L583.10,450.41 L583.63,451.43 L584.16,451.91 L584.69,451.75 L585.22,452.06 L585.75,452.35 L586.28,452.54 L586.81,453.80 L587.34,452.95 L587.87,453.77 L588.40,453.45 L588.93,454.09 L589.46,455.10 L589.99,455.50 L590.52,455.84 L591.05,455.98 L591.58,456.22 L592.11,456.66 L592.64,457.10 L593.17,458.03 L593.70,458.54 L594.23,458.54 L594.76,458.56 L595.29,458.80 L595.82,459.63 L596.35,459.81 L596.88,459.61 L597.41,461.15 L597.94,461.03 L598.47,461.29 L599.00,461.47 L599.53,461.85 L600.06,462.85 L600.59,462.57 L601.12,463.32 L601.65,463.88 L602.18,464.68 L602.71,464.62 L603.24,464.77 L603.77,465.00 L604.30,465.83 L604.83,466.25 L605.36,466.12 L605.89,466.85 L606.42,466.97 L606.95,466.83 L607.48,467.41 L608.01,468.40 L608.54,468.99 L609.07,469.10 L609.60,469.17 L610.13,469.36 L610.66,470.16 L611.19,470.45 L611.72,470.17 L612.25,471.30 L612.78,471.21 L613.31,472.04 L613.84,472.36 L614.37,472.79 L614.90,473.27 L615.43,473.51 L615.96,473.30 L616.49,473.68 L617.02,474.71 L617.55,474.89 L618.08,474.60 L618.61,474.82 L619.14,476.12 L619.67,476.91 L620.20,476.82 L620.73,476.85 L621.26,477.37 L621.79,476.79 L622.32,477.69 L622.85,478.69 L623.38,479.00 L623.91,478.43 L624.44,479.82 L624.97,479.98 L625.50,480.46 L626.03,480.47 L626.56,480.89 L627.09,480.92 L627.62,481.71 L628.15,482.24 L628.68,482.04 L629.21,482.79 L629.74,482.88 L630.27,483.71 L630.80,484.05 L631.33,483.41 L631.86,484.60 L632.39,485.13 L632.92,485.02 L633.45,485.47 L633.98,485.85 L634.51,485.91 L635.04,486.57 L635.57,487.41 L636.10,487.45 L636.63,488.10 L637.16,488.30 L637.69,488.72 L638.22,488.76 L638.75,489.30 L639.28,490.00 L639.81,490.20 L640.34,490.23 L640.87,490.29 L641.40,490.58 L641.93,491.26 L642.46,491.66 L642.99,491.38 L643.52,492.30 L644.05,492.69 L644.58,493.03 L645.11,493.14 L645.64,494.27 L646.17,494.23 L646.70,493.97 L647.23,494.50 L647.76,495.25 L648.29,495.52 L648.82,495.77 L649.35,496.07 L649.88,496.37 L650.41,496.65 L650.94,496.85 L651.47,497.61 L652.00,497.08 L652.53,497.96 L653.06,498.82 L653.59,498.64 L654.12,498.88 L654.65,500.02 L655.18,500.14 L655.71,500.18 L656.24,500.41 L656.77,500.85 L657.30,501.16 L657.83,501.52 L658.36,501.74 L658.89,502.40 L659.42,502.46 L659.95,502.48 L660.48,502.95 L661.01,503.60 L661.54,503.68 L662.07,503.66 L662.60,504.96 L663.13,505.05 L663.66,505.14 L664.19,505.46 L664.72,506.04 L665.25,506.57 L665.78,506.42 L666.31,506.99 L666.84,507.07 L667.37,507.61 L667.90,507.59 L668.43,507.75 L668.96,508.51 L669.49,508.79 L670.02,509.28 L670.55,509.27 L671.08,510.04 L671.61,510.06 L672.14,510.69 L672.67,510.57 L673.20,511.29 L673.73,511.24 L674.26,511.59 L674.79,512.07 L675.32,511.76 L675.85,512.21 L676.38,513.14 L676.91,512.70 L677.44,513.21 L677.97,513.73 L678.50,514.21 L679.03,514.07 L679.56,514.48 L680.09,514.49 L680.62,514.92 L681.15,515.50 L681.68,515.62 L682.21,515.81 L682.74,516.17 L683.27,516.38 L683.80,516.64 L684.33,516.79 L684.86,516.92 L685.39,517.52 L685.92,517.39 L686.45,518.09 L686.98,518.56 L687.51,518.70 L688.04,519.14 L688.57,518.72 L689.10,519.23 L689.63,519.21 L690.16,519.36 L690.69,519.27 L691.22,519.47 L691.75,519.97 L692.28,520.00 L692.81,520.13 L693.00,520.12"/>
<path class="c" stroke="#008000" d="M148.75,434.72 L149.28,433.20 L149.81,432.67 L150.34,432.21 L150.87,431.61 L151.40,430.08 L151.93,429.20 L152.46,428.41 L152.99,428.50 L153.52,427.22 L154.05,426.01 L154.58,424.99 L155.11,424.73 L155.64,422.95 L156.17,422.80 L156.70,421.84 L157.23,421.03 L157.76,420.60 L158.29,419.91 L158.82,420.36 L159.35,418.20 L159.88,417.70 L160.41,416.21 L160.94,415.02 L161.47,415.59 L162.00,415.22 L162.53,413.02 L163.06,412.71 L163.59,412.53 L164.12,411.28 L164.65,409.31 L165.18,410.25 L165.71,408.94 L166.24,408.64 L166.77,407.06 L167.30,407.27 L167.83,406.63 L168.36,405.02 L168.89,404.93 L169.42,403.65 L169.95,403.01 L170.48,402.11 L171.01,401.67 L171.54,400.86 L172.07,401.15 L172.60,399.75 L173.13,398.62 L173.66,399.26 L174.19,398.18 L174.72,397.77 L175.25,396.57 L175.78,396.34 L176.31,395.29 L176.84,394.21 L177.37,394.17 L177.90,393.59 L178.43,392.99 L178.96,392.78 L179.49,390.80 L180.02,391.31 L180.55,390.15 L181.08,389.86 L181.61,389.70 L182.14,388.95 L182.67,388.00 L183.20,388.27 L183.73,387.30 L184.26,387.34 L184.79,387.01 L185.32,385.62 L185.85,384.72 L186.38,384.89 L186.91,384.83 L187.44,384.08 L187.97,382.78 L188.50,382.03 L189.03,382.02 L189.56,381.58 L190.09,382.05 L190.62,381.33 L191.15,381.39 L191.68,380.45 L192.21,381.07 L192.74,379.75 L193.27,379.69 L193.80,378.78 L194.33,378.92 L194.86,378.95 L195.39,378.44 L195.92,378.41 L196.45,377.02 L196.98,377.34 L197.51,377.77 L198.04,376.65 L198.57,376.13 L199.10,375.82 L199.63,375.38 L200.16,375.52 L200.69,376.00 L201.22,375.22 L201.75,374.72 L202.28,374.06 L202.81,373.66 L203.34,375.52 L203.87,373.66 L204.40,373.81 L204.93,373.28 L205.46,373.49 L205.99,372.98 L206.52,373.14 L207.05,373.78 L207.58,372.37 L208.11,373.00 L208.64,372.56 L209.17,372.93 L209.70,372.01 L210.23,372.56 L210.76,371.66 L211.29,371.09 L211.82,371.31 L212.35,371.45 L212.88,371.29 L213.41,371.70 L213.94,372.50 L214.47,371.15 L215.00,372.06 L215.53,371.87 L216.06,371.37 L216.59,371.25 L217.12,372.06 L217.65,372.11 L218.18,371.65 L218.71,371.79 L219.24,371.90 L219.77,371.17 L220.30,372.04 L220.83,372.20 L221.36,373.11 L221.89,371.41 L222.42,371.72 L222.95,372.36 L223.48,372.06 L224.01,372.27 L224.54,372.60 L225.07,372.53 L225.60,372.78 L226.13,373.16 L226.66,372.08 L227.19,373.47 L227.72,371.97 L228.25,374.39 L228.78,374.08 L229.31,373.33 L229.84,374.42 L230.37,373.89 L230.90,374.38 L231.43,374.73 L231.96,374.65 L232.49,374.61 L233.02,375.13 L233.55,374.83 L234.08,374.90 L234.61,374.74 L235.14,374.42 L235.67,376.53 L236.20,376.24 L236.73,375.17 L237.26,376.36 L237.79,376.43 L238.32,375.23 L238.85,376.19 L239.38,376.78 L239.91,378.00 L240.44,377.84 L240.97,378.12 L241.50,377.78 L242.03,378.36 L242.56,377.33 L243.09,378.54 L243.62,378.80 L244.15,377.88 L244.68,378.94 L245.21,379.86 L245.74,380.29 L246.27,380.21 L246.80,379.23 L247.33,379.78 L247.86,379.75 L248.39,380.94 L248.92,379.98 L249.45,380.08 L249.98,379.96 L250.51,381.18 L251.04,381.52 L251.57,381.15 L252.10,381.28 L252.63,381.80 L253.16,382.86 L253.69,381.59 L254.22,382.52 L254.75,382.87 L255.28,383.18 L255.81,383.88 L256.34,383.86 L256.87,383.77 L257.40,384.64 L257.93,384.68 L258.46,384.43 L258.99,384.61 L259.52,384.05 L260.05,384.98 L260.58,384.69 L261.11,384.71 L261.64,385.39 L262.17,384.81 L262.70,385.48 L263.23,385.89 L263.76,386.56 L264.29,386.41 L264.82,387.01 L265.35,387.86 L265.88,387.65 L266.41,386.80 L266.94,386.67 L267.47,387.34 L268.00,387.57 L268.53,387.18 L269.06,387.53 L269.59,387.74 L270.12,388.54 L270.65,389.82 L271.18,390.17 L271.71,388.91 L272.24,389.41 L272.77,389.12 L273.30,389.17 L273.83,390.19 L274.36,390.45 L274.89,390.27 L275.42,391.13 L275.95,390.80 L276.48,391.74 L277.01,391.08 L277.54,391.98 L278.07,391.61 L278.60,391.96 L279.13,392.41 L279.66,391.56 L280.19,392.05 L280.72,392.59 L281.25,392.65 L281.78,393.11 L282.31,392.73 L282.84,392.63 L283.37,393.44 L283.90,393.81 L284.43,393.40 L284.96,394.62 L285.49,394.51 L286.02,394.75 L286.55,394.87 L287.08,394.17 L287.61,395.87 L288.14,394.54 L288.67,395.25 L289.20,395.58 L289.73,395.52 L290.26,395.59 L290.79,395.22 L291.32,395.57 L291.85,395.93 L292.38,396.72 L292.91,395.85 L293.44,396.67 L293.97,396.67 L294.50,396.62 L295.03,396.42 L295.56,396.76 L296.09,396.06 L296.62,397.12 L297.15,397.35 L297.68,397.04 L298.21,397.68 L298.74,397.68 L299.27,397.25 L299.80,398.16 L300.33,397.55 L300.86,399.16 L301.39,397.50 L301.92,397.70 L302.45,397.88 L302.98,398.42 L303.51,398.98 L304.04,398.53 L304.57,398.36 L305.10,399.62 L305.63,399.26 L306.16,398.68 L306.69,398.84 L307.22,398.20 L307.75,399.07 L308.28,400.00 L308.81,398.61 L309.34,398.55 L309.87,399.40 L310.40,398.19 L310.93,400.17 L311.46,398.76 L311.99,399.22 L312.52,399.56 L313.05,400.30 L313.58,399.94 L314.11,398.84 L314.64,398.99 L315.17,400.00 L315.70,398.89 L316.23,399.85 L316.76,399.63 L317.29,400.50 L317.82,400.75 L318.35,398.92 L318.88,400.45 L319.41,400.59 L319.94,399.93 L320.47,400.05 L321.00,399.78 L321.53,400.25 L322.06,400.66 L322.59,401.17 L323.12,401.24 L323.65,400.40 L324.18,400.15 L324.71,401.10 L325.24,399.22 L325.77,399.92 L326.30,400.97 L326.83,401.79 L327.36,400.29 L327.89,400.76 L328.42,400.16 L328.95,400.70 L329.48,400.72 L330.01,400.39 L330.54,400.99 L331.07,400.72 L331.60,401.08 L332.13,400.73 L332.66,400.24 L333.19,400.93 L333.72,401.30 L334.25,400.49 L334.78,401.57 L335.31,401.13 L335.84,400.72 L336.37,400.93 L336.90,400.70 L337.43,400.46 L337.96,401.38 L338.49,401.37 L339.02,400.68 L339.55,400.81 L340.08,400.79 L340.61,401.23 L341.14,401.61 L341.67,400.52 L342.20,401.00 L342.73,400.81 L343.26,401.09 L343.79,401.52 L344.32,400.33 L344.85,399.71 L345.38,400.64 L345.91,399.90 L346.44,401.53 L346.97,400.31 L347.50,400.49 L348.03,400.73 L348.56,400.69 L349.09,400.35 L349.62,400.54 L350.15,400.99 L350.68,400.33 L351.21,401.39 L351.74,400.60 L352.27,399.20 L352.80,400.80 L353.33,399.42 L353.86,400.44 L354.39,401.36 L354.92,400.72 L355.45,399.55 L355.98,399.67 L356.51,400.04 L357.04,400.71 L357.57,399.55 L358.10,400.43 L358.63,399.96 L359.16,399.70 L359.69,399.61 L360.22,400.49 L360.75,398.81 L361.28,398.94 L361.81,399.91 L362.34,399.89 L362.87,398.67 L363.40,398.80 L363.93,398.61 L364.46,399.41 L364.99,398.72 L365.52,399.71 L366.05,399.30 L366.58,398.97 L367.11,398.86 L367.64,398.95 L368.17,399.03 L368.70,398.52 L369.23,398.56 L369.76,398.74 L370.29,398.22 L370.82,398.68 L371.35,398.00 L371.88,397.59 L372.41,397.99 L372.94,398.65 L373.47,398.47 L374.00,396.79 L374.53,397.67 L375.06,397.16 L375.59,397.15 L376.12,397.04 L376.65,396.99 L377.18,396.74 L377.71,396.76 L378.24,396.91 L378.77,396.06 L379.30,395.93 L379.83,395.88 L380.36,395.76 L380.89,396.53 L381.42,395.53 L381.95,395.94 L382.48,395.90 L383.01,396.11 L383.54,395.63 L384.07,396.04 L384.60,395.34 L385.13,395.37 L385.66,395.50 L386.19,394.22 L386.72,395.05 L387.25,395.50 L387.78,394.64 L388.31,394.32 L388.84,395.30 L389.37,394.23 L389.90,394.68 L390.43,392.65 L390.96,393.80 L391.49,393.34 L392.02,393.65 L392.55,393.92 L393.08,393.07 L393.61,392.88 L394.14,391.36 L394.67,393.10 L395.20,393.23 L395.73,392.45 L396.26,391.96 L396.79,392.24 L397.32,392.43 L397.85,392.06 L398.38,392.65 L398.91,391.09 L399.44,390.50 L399.97,391.31 L400.50,391.55 L401.03,390.46 L401.56,390.53 L402.09,390.01 L402.62,389.50 L403.15,389.60 L403.68,388.70 L404.21,389.76 L404.74,389.68 L405.27,389.71 L405.80,388.61 L406.33,388.52 L406.86,387.76 L407.39,387.69 L407.92,388.75 L408.45,389.59 L408.98,387.31 L409.51,387.46 L410.04,387.97 L410.57,386.89 L411.10,387.38 L411.63,386.69 L412.16,386.49 L412.69,386.93 L413.22,386.09 L413.75,385.33 L414.28,386.25 L414.81,385.60 L415.34,385.07 L415.87,384.71 L416.40,385.24 L416.93,384.31 L417.46,384.54 L417.99,384.79 L418.52,383.96 L419.05,384.38 L419.58,382.80 L420.11,383.66 L420.64,383.38 L421.17,383.88 L421.70,382.63 L422.23,382.87 L422.76,382.05 L423.29,381.32 L423.82,381.18 L424.35,381.03 L424.88,381.62 L425.41,380.51 L425.94,380.73 L426.47,380.96 L427.00,380.91 L427.53,380.49 L428.06,380.55 L428.59,378.83 L429.12,378.94 L429.65,379.14 L430.18,379.34 L430.71,378.74 L431.24,377.77 L431.77,377.84 L432.30,376.76 L432.83,377.89 L433.36,376.17 L433.89,377.04 L434.42,377.27 L434.95,376.92 L435.48,375.23 L436.01,376.01 L436.54,375.43 L437.07,375.20 L437.60,376.05 L438.13,375.02 L438.66,373.78 L439.19,373.72 L439.72,374.48 L440.25,373.94 L440.78,372.90 L441.31,372.32 L441.84,372.70 L442.37,372.50 L442.90,372.96 L443.43,371.87 L443.96,372.35 L444.49,372.39 L445.02,370.50 L445.55,370.82 L446.08,371.80 L446.61,370.37 L447.14,370.36 L447.67,370.66 L448.20,369.39 L448.73,369.33 L449.26,368.34 L449.79,369.37 L450.32,368.50 L450.85,368.30 L451.38,366.74 L451.91,368.57 L452.44,368.14 L452.97,367.00 L453.50,367.93 L454.03,365.49 L454.56,366.64 L455.09,365.42 L455.62,367.78 L456.15,364.34 L456.68,364.91 L457.21,364.92 L457.74,365.59 L458.27,365.35 L458.80,364.83 L459.33,364.19 L459.86,365.37 L460.39,363.39 L460.92,363.76 L461.45,364.38 L461.98,362.33 L462.51,362.33 L463.04,363.24 L463.57,362.60 L464.10,361.28 L464.63,361.85 L465.16,362.76 L465.69,361.19 L466.22,361.59 L466.75,360.93 L467.28,360.19 L467.81,361.36 L468.34,360.72 L468.87,360.62 L469.40,359.56 L469.93,359.47 L470.46,359.31 L470.99,359.21 L471.52,358.49 L472.05,358.16 L472.58,359.05 L473.11,357.33 L473.64,357.50 L474.17,357.31 L474.70,357.00 L475.23,356.35 L475.76,356.39 L476.29,357.14 L476.82,356.20 L477.35,355.75 L477.88,357.03 L478.41,354.94 L478.94,356.21 L479.47,355.57 L480.00,354.30 L480.53,354.69 L481.06,354.50 L481.59,355.35 L482.12,354.91 L482.65,353.96 L483.18,353.20 L483.71,352.67 L484.24,353.43 L484.77,352.46 L485.30,353.04 L485.83,352.83 L486.36,353.01 L486.89,353.22 L487.42,352.47 L487.95,352.52 L488.48,351.93 L489.01,352.52 L489.54,352.21 L490.07,352.53 L490.60,352.23 L491.13,350.72 L491.66,350.09 L492.19,351.27 L492.72,351.43 L493.25,350.11 L493.78,351.34 L494.31,350.28 L494.84,350.01 L495.37,350.14 L495.90,348.87 L496.43,348.56 L496.96,349.25 L497.49,348.57 L498.02,349.17 L498.55,349.04 L499.08,347.26 L499.61,348.26 L500.14,348.98 L500.67,347.02 L501.20,348.17 L501.73,347.39 L502.26,346.87 L502.79,348.73 L503.32,348.58 L503.85,347.50 L504.38,347.33 L504.91,348.43 L505.44,348.19 L505.97,347.30 L506.50,347.76 L507.03,347.16 L507.56,346.79 L508.09,347.28 L508.62,346.51 L509.15,347.07 L509.68,346.43 L510.21,346.21 L510.74,346.04 L511.27,346.62 L511.80,346.84 L512.33,346.42 L512.86,345.50 L513.39,346.37 L513.92,345.31 L514.45,345.08 L514.98,345.60 L515.51,346.18 L516.04,346.03 L516.57,345.87 L517.10,346.33 L517.63,345.93 L518.16,345.07 L518.69,345.75 L519.22,345.01 L519.75,345.38 L520.28,345.45 L520.81,344.97 L521.34,344.00 L521.87,344.82 L522.40,344.66 L522.93,344.74 L523.46,344.48 L523.99,343.98 L524.52,343.62 L525.05,345.04 L525.58,345.08 L526.11,344.77 L526.64,344.46 L527.17,345.72 L527.70,344.85 L528.23,344.39 L528.76,344.89 L529.29,344.28 L529.82,344.75 L530.35,344.46 L530.88,344.61 L531.41,344.28 L531.94,343.92 L532.47,344.52 L533.00,344.90 L533.53,343.57 L534.06,343.80 L534.59,343.42 L535.12,344.67 L535.65,343.95 L536.18,344.65 L536.71,343.55 L537.24,344.59 L537.77,343.67 L538.30,343.74 L538.83,344.38 L539.36,343.77 L539.89,343.64 L540.42,344.60 L540.95,343.99 L541.48,344.83 L542.01,345.67 L542.54,343.68 L543.07,343.83 L543.60,343.08 L544.13,343.31 L544.66,344.47 L545.19,344.29 L545.72,344.29 L546.25,344.42 L546.78,343.60 L547.31,343.07 L547.84,344.87 L548.37,344.35 L548.90,344.94 L549.43,344.20 L549.96,344.73 L550.49,343.92 L551.02,344.28 L551.55,344.20 L552.08,344.57 L552.61,345.25 L553.14,344.80 L553.67,342.55 L554.20,344.38 L554.73,344.48 L555.26,345.03 L555.79,344.64 L556.32,344.14 L556.85,344.13 L557.38,344.46 L557.91,344.26 L558.44,345.67 L558.97,345.19 L559.50,344.88 L560.03,345.52 L560.56,346.32 L561.09,344.85 L561.62,345.02 L562.15,344.89 L562.68,344.34 L563.21,344.78 L563.74,344.63 L564.27,345.59 L564.80,345.63 L565.33,345.95 L565.86,344.96 L566.39,346.15 L566.92,344.95 L567.45,345.52 L567.98,346.52 L568.51,346.55 L569.04,346.53 L569.57,347.25 L570.10,346.64 L570.63,345.89 L571.16,345.98 L571.69,345.71 L572.22,346.43 L572.75,345.88 L573.28,346.05 L573.81,345.90 L574.34,345.53 L574.87,348.28 L575.40,347.35 L575.93,345.56 L576.46,347.26 L576.99,346.72 L577.52,345.82 L578.05,347.15 L578.58,347.53 L579.11,347.88 L579.64,348.33 L580.17,347.21 L580.70,347.84 L581.23,348.42 L581.76,348.48 L582.29,348.51 L582.82,348.47 L583.35,349.32 L583.88,347.89 L584.41,347.89 L584.94,350.08 L585.47,349.40 L586.00,349.99 L586.53,349.59 L587.06,349.37 L587.59,349.48 L588.12,350.02 L588.65,349.81 L589.18,350.24 L589.71,350.42 L590.24,351.17 L590.77,351.35 L591.30,352.06 L591.83,350.82 L592.36,351.45 L592.89,352.29 L593.42,352.14 L593.95,350.62 L594.48,352.60 L595.01,352.61 L595.54,352.56 L596.07,352.84 L596.60,352.90 L597.13,354.32 L597.66,354.28 L598.19,354.25 L598.72,355.07 L599.25,355.23 L599.78,354.42 L600.31,354.56 L600.84,354.87 L601.37,356.24 L601.90,356.07 L602.43,357.13 L602.96,357.02 L603.49,356.90 L604.02,356.59 L604.55,357.53 L605.08,359.39 L605.61,357.97 L606.14,358.24 L606.67,358.97 L607.20,360.29 L607.73,359.82 L608.26,359.56 L608.79,360.24 L609.32,360.91 L609.85,361.44 L610.38,362.39 L610.91,363.68 L611.44,363.41 L611.97,363.39 L612.50,363.42 L613.03,363.38 L613.56,364.63 L614.09,365.49 L614.62,365.68 L615.15,365.58 L615.68,366.52 L616.21,366.48 L616.74,367.00 L617.27,367.46 L617.80,368.14 L618.33,368.56 L618.86,369.71 L619.39,369.65 L619.92,370.12 L620.45,371.31 L620.98,371.65 L621.51,372.45 L622.04,371.92 L622.57,373.65 L623.10,373.47 L623.63,373.45 L624.16,374.52 L624.69,374.49 L625.22,375.20 L625.75,376.10 L626.28,377.45 L626.81,376.78 L627.34,378.29 L627.87,378.60 L628.40,380.22 L628.93,380.11 L629.46,380.97 L629.99,382.05 L630.52,381.35 L631.05,382.41 L631.58,382.46 L632.11,383.48 L632.64,384.77 L633.17,385.19 L633.70,386.18 L634.23,386.44 L634.76,386.98 L635.29,387.97 L635.82,388.28 L636.35,388.86 L636.88,389.32 L637.41,390.78 L637.94,391.79 L638.47,391.65 L639.00,392.77 L639.53,392.58 L640.06,393.88 L640.59,395.26 L641.12,395.33 L641.65,396.96 L642.18,397.31 L642.71,398.46 L643.24,398.78 L643.77,399.14 L644.30,400.61 L644.83,401.76 L645.36,401.95 L645.89,403.19 L646.42,403.46 L646.95,404.43 L647.48,406.00 L648.01,406.20 L648.54,406.57 L649.07,408.08 L649.60,408.66 L650.13,409.22 L650.66,410.62 L651.19,409.79 L651.72,412.24 L652.25,413.69 L652.78,413.81 L653.31,413.67 L653.84,415.99 L654.37,417.36 L654.90,417.34 L655.43,417.46 L655.96,418.49 L656.49,419.58 L657.02,420.58 L657.55,421.87 L658.08,422.46 L658.61,422.11 L659.14,423.81 L659.67,424.74 L660.20,426.45 L660.73,426.27 L661.26,426.79 L661.79,428.09 L662.32,429.18 L662.85,429.14 L663.38,431.20 L663.91,431.53 L664.44,432.77 L664.97,433.55 L665.50,434.32 L666.03,435.51 L666.56,436.44 L667.09,436.44 L667.62,437.40 L668.15,438.65 L668.68,439.12 L669.21,439.63 L669.74,440.70 L670.27,441.12 L670.80,442.05 L671.33,441.71 L671.86,443.86 L672.39,445.28 L672.92,445.63 L673.45,446.39 L673.98,446.95 L674.51,447.36 L675.04,448.56 L675.57,449.13 L676.10,449.79 L676.63,450.63 L677.16,451.04 L677.69,451.99 L678.22,452.87 L678.75,453.67 L679.28,454.05 L679.81,454.95 L680.34,455.39 L680.87,455.18 L681.40,455.94 L681.93,457.18 L682.46,457.49 L682.99,458.68 L683.52,458.63 L684.05,459.53 L684.58,460.06 L685.11,460.57 L685.64,461.18 L686.17,461.91 L686.70,462.48 L687.23,462.79 L687.76,463.53 L688.29,464.13 L688.82,464.36 L689.35,464.66 L689.88,465.11 L690.41,465.62 L690.94,466.02 L691.47,466.64 L692.00,467.88 L692.40,467.66"/>
<text x="410.6" y="52.7" text-anchor="middle" style="font-size:20px;letter-spacing:0.04px">gl8, ID:140281 Calibrated On-source spectrum</text>
<text class="tk" x="410" y="576" text-anchor="middle">Frequency (MHz)</text>
<text class="tk" transform="translate(56,169) rotate(-90)" text-anchor="middle">Power in Kelvin</text>
<rect class="lb" x="588.4" y="66.4" width="126" height="34"/>
<line x1="594.8" y1="74.4" x2="612.1" y2="74.4" stroke="#f00" stroke-width="1.4"/>
<line x1="594.8" y1="90.5" x2="612.1" y2="90.5" stroke="#008000" stroke-width="1.4"/>
<text class="lg" x="622.8" y="77.9">XX1 Tsys139.42</text>
<text class="lg" x="622.8" y="92.8">YY1 Tsys162.16</text>
<rect class="lb" x="106.4" y="327.5" width="126" height="34.7"/>
<line x1="112.8" y1="336.3" x2="130.1" y2="336.3" stroke="#f00" stroke-width="1.4"/>
<line x1="112.8" y1="351.5" x2="130.1" y2="351.5" stroke="#008000" stroke-width="1.4"/>
<text class="lg" x="140.8" y="338.8">XX2 Tsys106.91</text>
<text class="lg" x="140.8" y="354.7">YY2 Tsys155.56</text>
</svg></body></html>
